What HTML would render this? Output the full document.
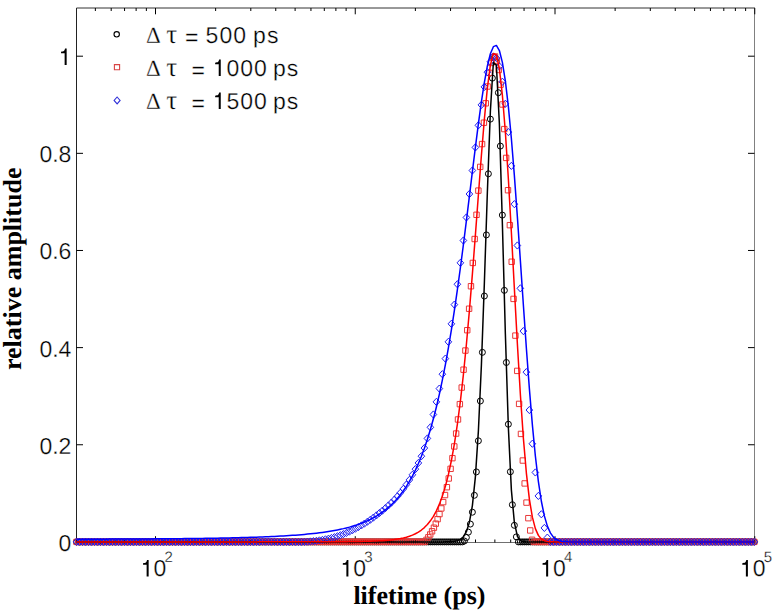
<!DOCTYPE html>
<html><head><meta charset="utf-8"><style>html,body{margin:0;padding:0;background:#fff;width:776px;height:610px;overflow:hidden}svg{display:block;text-rendering:geometricPrecision}</style></head><body><svg width="776" height="610" viewBox="0 0 776 610"><rect width="776" height="610" fill="#fff"/><g fill="none" stroke="#000" stroke-width="1"><path stroke="#222" d="M76.5 542.5V8.0"/><path stroke="#333" d="M76.5 8.0H755.0"/><path stroke="#808080" d="M754.5 8.0V542.5"/><path stroke="#707070" d="M76.5 542.5H754.5"/><path d="M76.5 541.9h6.5M754.5 541.9h-6.5M76.5 444.76h6.5M754.5 444.76h-6.5M76.5 347.62h6.5M754.5 347.62h-6.5M76.5 250.48h6.5M754.5 250.48h-6.5M76.5 153.34h6.5M754.5 153.34h-6.5M76.5 56.2h6.5M754.5 56.2h-6.5M95.37 542.5v-3.0M95.37 8.0v3.0M111.19 542.5v-3.0M111.19 8.0v3.0M124.56 542.5v-3.0M124.56 8.0v3.0M136.14 542.5v-3.0M136.14 8.0v3.0M146.36 542.5v-3.0M146.36 8.0v3.0M155.5 542.5v-6.3M155.5 8.0v6.3M215.63 542.5v-3.0M215.63 8.0v3.0M250.8 542.5v-3.0M250.8 8.0v3.0M275.76 542.5v-3.0M275.76 8.0v3.0M295.12 542.5v-3.0M295.12 8.0v3.0M310.94 542.5v-3.0M310.94 8.0v3.0M324.31 542.5v-3.0M324.31 8.0v3.0M335.89 542.5v-3.0M335.89 8.0v3.0M346.11 542.5v-3.0M346.11 8.0v3.0M355.25 542.5v-6.3M355.25 8.0v6.3M415.38 542.5v-3.0M415.38 8.0v3.0M450.55 542.5v-3.0M450.55 8.0v3.0M475.51 542.5v-3.0M475.51 8.0v3.0M494.87 542.5v-3.0M494.87 8.0v3.0M510.69 542.5v-3.0M510.69 8.0v3.0M524.06 542.5v-3.0M524.06 8.0v3.0M535.64 542.5v-3.0M535.64 8.0v3.0M545.86 542.5v-3.0M545.86 8.0v3.0M555 542.5v-6.3M555 8.0v6.3M615.13 542.5v-3.0M615.13 8.0v3.0M650.3 542.5v-3.0M650.3 8.0v3.0M675.26 542.5v-3.0M675.26 8.0v3.0M694.62 542.5v-3.0M694.62 8.0v3.0M710.44 542.5v-3.0M710.44 8.0v3.0M723.81 542.5v-3.0M723.81 8.0v3.0M735.39 542.5v-3.0M735.39 8.0v3.0M745.61 542.5v-3.0M745.61 8.0v3.0M754.75 542.5v-6.3M754.75 8.0v6.3"/></g><g fill="none" stroke-width="1"><path stroke="#000" d="M73.5 541.9a3.0 3.0 0 1 0 6.0 0a3.0 3.0 0 1 0 -6.0 0M75.5 541.9a3.0 3.0 0 1 0 6.0 0a3.0 3.0 0 1 0 -6.0 0M77.5 541.9a3.0 3.0 0 1 0 6.0 0a3.0 3.0 0 1 0 -6.0 0M79.5 541.9a3.0 3.0 0 1 0 6.0 0a3.0 3.0 0 1 0 -6.0 0M81.5 541.9a3.0 3.0 0 1 0 6.0 0a3.0 3.0 0 1 0 -6.0 0M83.5 541.9a3.0 3.0 0 1 0 6.0 0a3.0 3.0 0 1 0 -6.0 0M85.5 541.9a3.0 3.0 0 1 0 6.0 0a3.0 3.0 0 1 0 -6.0 0M87.5 541.9a3.0 3.0 0 1 0 6.0 0a3.0 3.0 0 1 0 -6.0 0M89.5 541.9a3.0 3.0 0 1 0 6.0 0a3.0 3.0 0 1 0 -6.0 0M91.49 541.9a3.0 3.0 0 1 0 6.0 0a3.0 3.0 0 1 0 -6.0 0M93.49 541.9a3.0 3.0 0 1 0 6.0 0a3.0 3.0 0 1 0 -6.0 0M95.49 541.9a3.0 3.0 0 1 0 6.0 0a3.0 3.0 0 1 0 -6.0 0M97.49 541.9a3.0 3.0 0 1 0 6.0 0a3.0 3.0 0 1 0 -6.0 0M99.49 541.9a3.0 3.0 0 1 0 6.0 0a3.0 3.0 0 1 0 -6.0 0M101.49 541.9a3.0 3.0 0 1 0 6.0 0a3.0 3.0 0 1 0 -6.0 0M103.49 541.9a3.0 3.0 0 1 0 6.0 0a3.0 3.0 0 1 0 -6.0 0M105.49 541.9a3.0 3.0 0 1 0 6.0 0a3.0 3.0 0 1 0 -6.0 0M107.49 541.9a3.0 3.0 0 1 0 6.0 0a3.0 3.0 0 1 0 -6.0 0M109.49 541.9a3.0 3.0 0 1 0 6.0 0a3.0 3.0 0 1 0 -6.0 0M111.49 541.9a3.0 3.0 0 1 0 6.0 0a3.0 3.0 0 1 0 -6.0 0M113.49 541.9a3.0 3.0 0 1 0 6.0 0a3.0 3.0 0 1 0 -6.0 0M115.49 541.9a3.0 3.0 0 1 0 6.0 0a3.0 3.0 0 1 0 -6.0 0M117.49 541.9a3.0 3.0 0 1 0 6.0 0a3.0 3.0 0 1 0 -6.0 0M119.49 541.9a3.0 3.0 0 1 0 6.0 0a3.0 3.0 0 1 0 -6.0 0M121.49 541.9a3.0 3.0 0 1 0 6.0 0a3.0 3.0 0 1 0 -6.0 0M123.49 541.9a3.0 3.0 0 1 0 6.0 0a3.0 3.0 0 1 0 -6.0 0M125.48 541.9a3.0 3.0 0 1 0 6.0 0a3.0 3.0 0 1 0 -6.0 0M127.48 541.9a3.0 3.0 0 1 0 6.0 0a3.0 3.0 0 1 0 -6.0 0M129.48 541.9a3.0 3.0 0 1 0 6.0 0a3.0 3.0 0 1 0 -6.0 0M131.48 541.9a3.0 3.0 0 1 0 6.0 0a3.0 3.0 0 1 0 -6.0 0M133.48 541.9a3.0 3.0 0 1 0 6.0 0a3.0 3.0 0 1 0 -6.0 0M135.48 541.9a3.0 3.0 0 1 0 6.0 0a3.0 3.0 0 1 0 -6.0 0M137.48 541.9a3.0 3.0 0 1 0 6.0 0a3.0 3.0 0 1 0 -6.0 0M139.48 541.9a3.0 3.0 0 1 0 6.0 0a3.0 3.0 0 1 0 -6.0 0M141.48 541.9a3.0 3.0 0 1 0 6.0 0a3.0 3.0 0 1 0 -6.0 0M143.48 541.9a3.0 3.0 0 1 0 6.0 0a3.0 3.0 0 1 0 -6.0 0M145.48 541.9a3.0 3.0 0 1 0 6.0 0a3.0 3.0 0 1 0 -6.0 0M147.48 541.9a3.0 3.0 0 1 0 6.0 0a3.0 3.0 0 1 0 -6.0 0M149.48 541.9a3.0 3.0 0 1 0 6.0 0a3.0 3.0 0 1 0 -6.0 0M151.48 541.9a3.0 3.0 0 1 0 6.0 0a3.0 3.0 0 1 0 -6.0 0M153.48 541.9a3.0 3.0 0 1 0 6.0 0a3.0 3.0 0 1 0 -6.0 0M155.48 541.9a3.0 3.0 0 1 0 6.0 0a3.0 3.0 0 1 0 -6.0 0M157.48 541.9a3.0 3.0 0 1 0 6.0 0a3.0 3.0 0 1 0 -6.0 0M159.47 541.9a3.0 3.0 0 1 0 6.0 0a3.0 3.0 0 1 0 -6.0 0M161.47 541.9a3.0 3.0 0 1 0 6.0 0a3.0 3.0 0 1 0 -6.0 0M163.47 541.9a3.0 3.0 0 1 0 6.0 0a3.0 3.0 0 1 0 -6.0 0M165.47 541.9a3.0 3.0 0 1 0 6.0 0a3.0 3.0 0 1 0 -6.0 0M167.47 541.9a3.0 3.0 0 1 0 6.0 0a3.0 3.0 0 1 0 -6.0 0M169.47 541.9a3.0 3.0 0 1 0 6.0 0a3.0 3.0 0 1 0 -6.0 0M171.47 541.9a3.0 3.0 0 1 0 6.0 0a3.0 3.0 0 1 0 -6.0 0M173.47 541.9a3.0 3.0 0 1 0 6.0 0a3.0 3.0 0 1 0 -6.0 0M175.47 541.9a3.0 3.0 0 1 0 6.0 0a3.0 3.0 0 1 0 -6.0 0M177.47 541.9a3.0 3.0 0 1 0 6.0 0a3.0 3.0 0 1 0 -6.0 0M179.47 541.9a3.0 3.0 0 1 0 6.0 0a3.0 3.0 0 1 0 -6.0 0M181.47 541.9a3.0 3.0 0 1 0 6.0 0a3.0 3.0 0 1 0 -6.0 0M183.47 541.9a3.0 3.0 0 1 0 6.0 0a3.0 3.0 0 1 0 -6.0 0M185.47 541.9a3.0 3.0 0 1 0 6.0 0a3.0 3.0 0 1 0 -6.0 0M187.47 541.9a3.0 3.0 0 1 0 6.0 0a3.0 3.0 0 1 0 -6.0 0M189.47 541.9a3.0 3.0 0 1 0 6.0 0a3.0 3.0 0 1 0 -6.0 0M191.47 541.9a3.0 3.0 0 1 0 6.0 0a3.0 3.0 0 1 0 -6.0 0M193.46 541.9a3.0 3.0 0 1 0 6.0 0a3.0 3.0 0 1 0 -6.0 0M195.46 541.9a3.0 3.0 0 1 0 6.0 0a3.0 3.0 0 1 0 -6.0 0M197.46 541.9a3.0 3.0 0 1 0 6.0 0a3.0 3.0 0 1 0 -6.0 0M199.46 541.9a3.0 3.0 0 1 0 6.0 0a3.0 3.0 0 1 0 -6.0 0M201.46 541.9a3.0 3.0 0 1 0 6.0 0a3.0 3.0 0 1 0 -6.0 0M203.46 541.9a3.0 3.0 0 1 0 6.0 0a3.0 3.0 0 1 0 -6.0 0M205.46 541.9a3.0 3.0 0 1 0 6.0 0a3.0 3.0 0 1 0 -6.0 0M207.46 541.9a3.0 3.0 0 1 0 6.0 0a3.0 3.0 0 1 0 -6.0 0M209.46 541.9a3.0 3.0 0 1 0 6.0 0a3.0 3.0 0 1 0 -6.0 0M211.46 541.9a3.0 3.0 0 1 0 6.0 0a3.0 3.0 0 1 0 -6.0 0M213.46 541.9a3.0 3.0 0 1 0 6.0 0a3.0 3.0 0 1 0 -6.0 0M215.46 541.9a3.0 3.0 0 1 0 6.0 0a3.0 3.0 0 1 0 -6.0 0M217.46 541.9a3.0 3.0 0 1 0 6.0 0a3.0 3.0 0 1 0 -6.0 0M219.46 541.9a3.0 3.0 0 1 0 6.0 0a3.0 3.0 0 1 0 -6.0 0M221.46 541.9a3.0 3.0 0 1 0 6.0 0a3.0 3.0 0 1 0 -6.0 0M223.46 541.9a3.0 3.0 0 1 0 6.0 0a3.0 3.0 0 1 0 -6.0 0M225.46 541.9a3.0 3.0 0 1 0 6.0 0a3.0 3.0 0 1 0 -6.0 0M227.45 541.9a3.0 3.0 0 1 0 6.0 0a3.0 3.0 0 1 0 -6.0 0M229.45 541.9a3.0 3.0 0 1 0 6.0 0a3.0 3.0 0 1 0 -6.0 0M231.45 541.9a3.0 3.0 0 1 0 6.0 0a3.0 3.0 0 1 0 -6.0 0M233.45 541.9a3.0 3.0 0 1 0 6.0 0a3.0 3.0 0 1 0 -6.0 0M235.45 541.9a3.0 3.0 0 1 0 6.0 0a3.0 3.0 0 1 0 -6.0 0M237.45 541.9a3.0 3.0 0 1 0 6.0 0a3.0 3.0 0 1 0 -6.0 0M239.45 541.9a3.0 3.0 0 1 0 6.0 0a3.0 3.0 0 1 0 -6.0 0M241.45 541.9a3.0 3.0 0 1 0 6.0 0a3.0 3.0 0 1 0 -6.0 0M243.45 541.9a3.0 3.0 0 1 0 6.0 0a3.0 3.0 0 1 0 -6.0 0M245.45 541.9a3.0 3.0 0 1 0 6.0 0a3.0 3.0 0 1 0 -6.0 0M247.45 541.9a3.0 3.0 0 1 0 6.0 0a3.0 3.0 0 1 0 -6.0 0M249.45 541.9a3.0 3.0 0 1 0 6.0 0a3.0 3.0 0 1 0 -6.0 0M251.45 541.9a3.0 3.0 0 1 0 6.0 0a3.0 3.0 0 1 0 -6.0 0M253.45 541.9a3.0 3.0 0 1 0 6.0 0a3.0 3.0 0 1 0 -6.0 0M255.45 541.9a3.0 3.0 0 1 0 6.0 0a3.0 3.0 0 1 0 -6.0 0M257.45 541.9a3.0 3.0 0 1 0 6.0 0a3.0 3.0 0 1 0 -6.0 0M259.45 541.9a3.0 3.0 0 1 0 6.0 0a3.0 3.0 0 1 0 -6.0 0M261.44 541.9a3.0 3.0 0 1 0 6.0 0a3.0 3.0 0 1 0 -6.0 0M263.44 541.9a3.0 3.0 0 1 0 6.0 0a3.0 3.0 0 1 0 -6.0 0M265.44 541.9a3.0 3.0 0 1 0 6.0 0a3.0 3.0 0 1 0 -6.0 0M267.44 541.9a3.0 3.0 0 1 0 6.0 0a3.0 3.0 0 1 0 -6.0 0M269.44 541.9a3.0 3.0 0 1 0 6.0 0a3.0 3.0 0 1 0 -6.0 0M271.44 541.9a3.0 3.0 0 1 0 6.0 0a3.0 3.0 0 1 0 -6.0 0M273.44 541.9a3.0 3.0 0 1 0 6.0 0a3.0 3.0 0 1 0 -6.0 0M275.44 541.9a3.0 3.0 0 1 0 6.0 0a3.0 3.0 0 1 0 -6.0 0M277.44 541.9a3.0 3.0 0 1 0 6.0 0a3.0 3.0 0 1 0 -6.0 0M279.44 541.9a3.0 3.0 0 1 0 6.0 0a3.0 3.0 0 1 0 -6.0 0M281.44 541.9a3.0 3.0 0 1 0 6.0 0a3.0 3.0 0 1 0 -6.0 0M283.44 541.9a3.0 3.0 0 1 0 6.0 0a3.0 3.0 0 1 0 -6.0 0M285.44 541.9a3.0 3.0 0 1 0 6.0 0a3.0 3.0 0 1 0 -6.0 0M287.44 541.9a3.0 3.0 0 1 0 6.0 0a3.0 3.0 0 1 0 -6.0 0M289.44 541.9a3.0 3.0 0 1 0 6.0 0a3.0 3.0 0 1 0 -6.0 0M291.44 541.9a3.0 3.0 0 1 0 6.0 0a3.0 3.0 0 1 0 -6.0 0M293.44 541.9a3.0 3.0 0 1 0 6.0 0a3.0 3.0 0 1 0 -6.0 0M295.43 541.9a3.0 3.0 0 1 0 6.0 0a3.0 3.0 0 1 0 -6.0 0M297.43 541.9a3.0 3.0 0 1 0 6.0 0a3.0 3.0 0 1 0 -6.0 0M299.43 541.9a3.0 3.0 0 1 0 6.0 0a3.0 3.0 0 1 0 -6.0 0M301.43 541.9a3.0 3.0 0 1 0 6.0 0a3.0 3.0 0 1 0 -6.0 0M303.43 541.9a3.0 3.0 0 1 0 6.0 0a3.0 3.0 0 1 0 -6.0 0M305.43 541.9a3.0 3.0 0 1 0 6.0 0a3.0 3.0 0 1 0 -6.0 0M307.43 541.9a3.0 3.0 0 1 0 6.0 0a3.0 3.0 0 1 0 -6.0 0M309.43 541.9a3.0 3.0 0 1 0 6.0 0a3.0 3.0 0 1 0 -6.0 0M311.43 541.9a3.0 3.0 0 1 0 6.0 0a3.0 3.0 0 1 0 -6.0 0M313.43 541.9a3.0 3.0 0 1 0 6.0 0a3.0 3.0 0 1 0 -6.0 0M315.43 541.9a3.0 3.0 0 1 0 6.0 0a3.0 3.0 0 1 0 -6.0 0M317.43 541.9a3.0 3.0 0 1 0 6.0 0a3.0 3.0 0 1 0 -6.0 0M319.43 541.9a3.0 3.0 0 1 0 6.0 0a3.0 3.0 0 1 0 -6.0 0M321.43 541.9a3.0 3.0 0 1 0 6.0 0a3.0 3.0 0 1 0 -6.0 0M323.43 541.9a3.0 3.0 0 1 0 6.0 0a3.0 3.0 0 1 0 -6.0 0M325.43 541.9a3.0 3.0 0 1 0 6.0 0a3.0 3.0 0 1 0 -6.0 0M327.43 541.9a3.0 3.0 0 1 0 6.0 0a3.0 3.0 0 1 0 -6.0 0M329.42 541.9a3.0 3.0 0 1 0 6.0 0a3.0 3.0 0 1 0 -6.0 0M331.42 541.9a3.0 3.0 0 1 0 6.0 0a3.0 3.0 0 1 0 -6.0 0M333.42 541.9a3.0 3.0 0 1 0 6.0 0a3.0 3.0 0 1 0 -6.0 0M335.42 541.9a3.0 3.0 0 1 0 6.0 0a3.0 3.0 0 1 0 -6.0 0M337.42 541.9a3.0 3.0 0 1 0 6.0 0a3.0 3.0 0 1 0 -6.0 0M339.42 541.9a3.0 3.0 0 1 0 6.0 0a3.0 3.0 0 1 0 -6.0 0M341.42 541.9a3.0 3.0 0 1 0 6.0 0a3.0 3.0 0 1 0 -6.0 0M343.42 541.9a3.0 3.0 0 1 0 6.0 0a3.0 3.0 0 1 0 -6.0 0M345.42 541.9a3.0 3.0 0 1 0 6.0 0a3.0 3.0 0 1 0 -6.0 0M347.42 541.9a3.0 3.0 0 1 0 6.0 0a3.0 3.0 0 1 0 -6.0 0M349.42 541.9a3.0 3.0 0 1 0 6.0 0a3.0 3.0 0 1 0 -6.0 0M351.42 541.9a3.0 3.0 0 1 0 6.0 0a3.0 3.0 0 1 0 -6.0 0M353.42 541.9a3.0 3.0 0 1 0 6.0 0a3.0 3.0 0 1 0 -6.0 0M355.42 541.9a3.0 3.0 0 1 0 6.0 0a3.0 3.0 0 1 0 -6.0 0M357.42 541.9a3.0 3.0 0 1 0 6.0 0a3.0 3.0 0 1 0 -6.0 0M359.42 541.9a3.0 3.0 0 1 0 6.0 0a3.0 3.0 0 1 0 -6.0 0M361.42 541.9a3.0 3.0 0 1 0 6.0 0a3.0 3.0 0 1 0 -6.0 0M363.41 541.9a3.0 3.0 0 1 0 6.0 0a3.0 3.0 0 1 0 -6.0 0M365.41 541.9a3.0 3.0 0 1 0 6.0 0a3.0 3.0 0 1 0 -6.0 0M367.41 541.9a3.0 3.0 0 1 0 6.0 0a3.0 3.0 0 1 0 -6.0 0M369.41 541.9a3.0 3.0 0 1 0 6.0 0a3.0 3.0 0 1 0 -6.0 0M371.41 541.9a3.0 3.0 0 1 0 6.0 0a3.0 3.0 0 1 0 -6.0 0M373.41 541.9a3.0 3.0 0 1 0 6.0 0a3.0 3.0 0 1 0 -6.0 0M375.41 541.9a3.0 3.0 0 1 0 6.0 0a3.0 3.0 0 1 0 -6.0 0M377.41 541.9a3.0 3.0 0 1 0 6.0 0a3.0 3.0 0 1 0 -6.0 0M379.41 541.9a3.0 3.0 0 1 0 6.0 0a3.0 3.0 0 1 0 -6.0 0M381.41 541.9a3.0 3.0 0 1 0 6.0 0a3.0 3.0 0 1 0 -6.0 0M383.41 541.9a3.0 3.0 0 1 0 6.0 0a3.0 3.0 0 1 0 -6.0 0M385.41 541.9a3.0 3.0 0 1 0 6.0 0a3.0 3.0 0 1 0 -6.0 0M387.41 541.9a3.0 3.0 0 1 0 6.0 0a3.0 3.0 0 1 0 -6.0 0M389.41 541.9a3.0 3.0 0 1 0 6.0 0a3.0 3.0 0 1 0 -6.0 0M391.41 541.9a3.0 3.0 0 1 0 6.0 0a3.0 3.0 0 1 0 -6.0 0M393.41 541.9a3.0 3.0 0 1 0 6.0 0a3.0 3.0 0 1 0 -6.0 0M395.41 541.9a3.0 3.0 0 1 0 6.0 0a3.0 3.0 0 1 0 -6.0 0M397.4 541.9a3.0 3.0 0 1 0 6.0 0a3.0 3.0 0 1 0 -6.0 0M399.4 541.9a3.0 3.0 0 1 0 6.0 0a3.0 3.0 0 1 0 -6.0 0M401.4 541.9a3.0 3.0 0 1 0 6.0 0a3.0 3.0 0 1 0 -6.0 0M403.4 541.9a3.0 3.0 0 1 0 6.0 0a3.0 3.0 0 1 0 -6.0 0M405.4 541.9a3.0 3.0 0 1 0 6.0 0a3.0 3.0 0 1 0 -6.0 0M407.4 541.9a3.0 3.0 0 1 0 6.0 0a3.0 3.0 0 1 0 -6.0 0M409.4 541.9a3.0 3.0 0 1 0 6.0 0a3.0 3.0 0 1 0 -6.0 0M411.4 541.9a3.0 3.0 0 1 0 6.0 0a3.0 3.0 0 1 0 -6.0 0M413.4 541.9a3.0 3.0 0 1 0 6.0 0a3.0 3.0 0 1 0 -6.0 0M415.4 541.9a3.0 3.0 0 1 0 6.0 0a3.0 3.0 0 1 0 -6.0 0M417.4 541.9a3.0 3.0 0 1 0 6.0 0a3.0 3.0 0 1 0 -6.0 0M419.4 541.9a3.0 3.0 0 1 0 6.0 0a3.0 3.0 0 1 0 -6.0 0M421.4 541.9a3.0 3.0 0 1 0 6.0 0a3.0 3.0 0 1 0 -6.0 0M423.4 541.9a3.0 3.0 0 1 0 6.0 0a3.0 3.0 0 1 0 -6.0 0M425.4 541.9a3.0 3.0 0 1 0 6.0 0a3.0 3.0 0 1 0 -6.0 0M427.4 541.9a3.0 3.0 0 1 0 6.0 0a3.0 3.0 0 1 0 -6.0 0M429.39 541.9a3.0 3.0 0 1 0 6.0 0a3.0 3.0 0 1 0 -6.0 0M431.39 541.9a3.0 3.0 0 1 0 6.0 0a3.0 3.0 0 1 0 -6.0 0M433.39 541.9a3.0 3.0 0 1 0 6.0 0a3.0 3.0 0 1 0 -6.0 0M435.39 541.9a3.0 3.0 0 1 0 6.0 0a3.0 3.0 0 1 0 -6.0 0M437.39 541.9a3.0 3.0 0 1 0 6.0 0a3.0 3.0 0 1 0 -6.0 0M439.39 541.9a3.0 3.0 0 1 0 6.0 0a3.0 3.0 0 1 0 -6.0 0M441.39 541.9a3.0 3.0 0 1 0 6.0 0a3.0 3.0 0 1 0 -6.0 0M443.39 541.9a3.0 3.0 0 1 0 6.0 0a3.0 3.0 0 1 0 -6.0 0M445.39 541.9a3.0 3.0 0 1 0 6.0 0a3.0 3.0 0 1 0 -6.0 0M447.39 541.9a3.0 3.0 0 1 0 6.0 0a3.0 3.0 0 1 0 -6.0 0M449.39 541.9a3.0 3.0 0 1 0 6.0 0a3.0 3.0 0 1 0 -6.0 0M451.39 541.9a3.0 3.0 0 1 0 6.0 0a3.0 3.0 0 1 0 -6.0 0M453.39 541.9a3.0 3.0 0 1 0 6.0 0a3.0 3.0 0 1 0 -6.0 0M455.39 541.9a3.0 3.0 0 1 0 6.0 0a3.0 3.0 0 1 0 -6.0 0M457.39 541.9a3.0 3.0 0 1 0 6.0 0a3.0 3.0 0 1 0 -6.0 0M459.39 541.9a3.0 3.0 0 1 0 6.0 0a3.0 3.0 0 1 0 -6.0 0M461.39 541.01a3.0 3.0 0 1 0 6.0 0a3.0 3.0 0 1 0 -6.0 0M463.38 537.52a3.0 3.0 0 1 0 6.0 0a3.0 3.0 0 1 0 -6.0 0M465.38 532.14a3.0 3.0 0 1 0 6.0 0a3.0 3.0 0 1 0 -6.0 0M467.38 524.05a3.0 3.0 0 1 0 6.0 0a3.0 3.0 0 1 0 -6.0 0M469.38 512.19a3.0 3.0 0 1 0 6.0 0a3.0 3.0 0 1 0 -6.0 0M471.38 495.28a3.0 3.0 0 1 0 6.0 0a3.0 3.0 0 1 0 -6.0 0M473.38 471.92a3.0 3.0 0 1 0 6.0 0a3.0 3.0 0 1 0 -6.0 0M475.38 440.81a3.0 3.0 0 1 0 6.0 0a3.0 3.0 0 1 0 -6.0 0M477.38 400.99a3.0 3.0 0 1 0 6.0 0a3.0 3.0 0 1 0 -6.0 0M479.38 352.34a3.0 3.0 0 1 0 6.0 0a3.0 3.0 0 1 0 -6.0 0M481.38 296.02a3.0 3.0 0 1 0 6.0 0a3.0 3.0 0 1 0 -6.0 0M483.38 234.92a3.0 3.0 0 1 0 6.0 0a3.0 3.0 0 1 0 -6.0 0M485.38 173.8a3.0 3.0 0 1 0 6.0 0a3.0 3.0 0 1 0 -6.0 0M487.38 119.12a3.0 3.0 0 1 0 6.0 0a3.0 3.0 0 1 0 -6.0 0M489.38 78.14a3.0 3.0 0 1 0 6.0 0a3.0 3.0 0 1 0 -6.0 0M491.38 57.61a3.0 3.0 0 1 0 6.0 0a3.0 3.0 0 1 0 -6.0 0M493.38 62.14a3.0 3.0 0 1 0 6.0 0a3.0 3.0 0 1 0 -6.0 0M495.38 92.73a3.0 3.0 0 1 0 6.0 0a3.0 3.0 0 1 0 -6.0 0M497.37 146.09a3.0 3.0 0 1 0 6.0 0a3.0 3.0 0 1 0 -6.0 0M499.37 215.1a3.0 3.0 0 1 0 6.0 0a3.0 3.0 0 1 0 -6.0 0M501.37 290.35a3.0 3.0 0 1 0 6.0 0a3.0 3.0 0 1 0 -6.0 0M503.37 362.48a3.0 3.0 0 1 0 6.0 0a3.0 3.0 0 1 0 -6.0 0M505.37 424.23a3.0 3.0 0 1 0 6.0 0a3.0 3.0 0 1 0 -6.0 0M507.37 471.77a3.0 3.0 0 1 0 6.0 0a3.0 3.0 0 1 0 -6.0 0M509.37 504.74a3.0 3.0 0 1 0 6.0 0a3.0 3.0 0 1 0 -6.0 0M511.37 525.32a3.0 3.0 0 1 0 6.0 0a3.0 3.0 0 1 0 -6.0 0M513.37 536.86a3.0 3.0 0 1 0 6.0 0a3.0 3.0 0 1 0 -6.0 0M515.37 541.9a3.0 3.0 0 1 0 6.0 0a3.0 3.0 0 1 0 -6.0 0M517.37 541.9a3.0 3.0 0 1 0 6.0 0a3.0 3.0 0 1 0 -6.0 0M519.37 541.9a3.0 3.0 0 1 0 6.0 0a3.0 3.0 0 1 0 -6.0 0M521.37 541.9a3.0 3.0 0 1 0 6.0 0a3.0 3.0 0 1 0 -6.0 0M523.37 541.9a3.0 3.0 0 1 0 6.0 0a3.0 3.0 0 1 0 -6.0 0M525.37 541.9a3.0 3.0 0 1 0 6.0 0a3.0 3.0 0 1 0 -6.0 0M527.37 541.9a3.0 3.0 0 1 0 6.0 0a3.0 3.0 0 1 0 -6.0 0M529.37 541.9a3.0 3.0 0 1 0 6.0 0a3.0 3.0 0 1 0 -6.0 0M531.36 541.9a3.0 3.0 0 1 0 6.0 0a3.0 3.0 0 1 0 -6.0 0M533.36 541.9a3.0 3.0 0 1 0 6.0 0a3.0 3.0 0 1 0 -6.0 0M535.36 541.9a3.0 3.0 0 1 0 6.0 0a3.0 3.0 0 1 0 -6.0 0M537.36 541.9a3.0 3.0 0 1 0 6.0 0a3.0 3.0 0 1 0 -6.0 0M539.36 541.9a3.0 3.0 0 1 0 6.0 0a3.0 3.0 0 1 0 -6.0 0M541.36 541.9a3.0 3.0 0 1 0 6.0 0a3.0 3.0 0 1 0 -6.0 0M543.36 541.9a3.0 3.0 0 1 0 6.0 0a3.0 3.0 0 1 0 -6.0 0M545.36 541.9a3.0 3.0 0 1 0 6.0 0a3.0 3.0 0 1 0 -6.0 0M547.36 541.9a3.0 3.0 0 1 0 6.0 0a3.0 3.0 0 1 0 -6.0 0M549.36 541.9a3.0 3.0 0 1 0 6.0 0a3.0 3.0 0 1 0 -6.0 0M551.36 541.9a3.0 3.0 0 1 0 6.0 0a3.0 3.0 0 1 0 -6.0 0M553.36 541.9a3.0 3.0 0 1 0 6.0 0a3.0 3.0 0 1 0 -6.0 0M555.36 541.9a3.0 3.0 0 1 0 6.0 0a3.0 3.0 0 1 0 -6.0 0M557.36 541.9a3.0 3.0 0 1 0 6.0 0a3.0 3.0 0 1 0 -6.0 0M559.36 541.9a3.0 3.0 0 1 0 6.0 0a3.0 3.0 0 1 0 -6.0 0M561.36 541.9a3.0 3.0 0 1 0 6.0 0a3.0 3.0 0 1 0 -6.0 0M563.36 541.9a3.0 3.0 0 1 0 6.0 0a3.0 3.0 0 1 0 -6.0 0M565.35 541.9a3.0 3.0 0 1 0 6.0 0a3.0 3.0 0 1 0 -6.0 0M567.35 541.9a3.0 3.0 0 1 0 6.0 0a3.0 3.0 0 1 0 -6.0 0M569.35 541.9a3.0 3.0 0 1 0 6.0 0a3.0 3.0 0 1 0 -6.0 0M571.35 541.9a3.0 3.0 0 1 0 6.0 0a3.0 3.0 0 1 0 -6.0 0M573.35 541.9a3.0 3.0 0 1 0 6.0 0a3.0 3.0 0 1 0 -6.0 0M575.35 541.9a3.0 3.0 0 1 0 6.0 0a3.0 3.0 0 1 0 -6.0 0M577.35 541.9a3.0 3.0 0 1 0 6.0 0a3.0 3.0 0 1 0 -6.0 0M579.35 541.9a3.0 3.0 0 1 0 6.0 0a3.0 3.0 0 1 0 -6.0 0M581.35 541.9a3.0 3.0 0 1 0 6.0 0a3.0 3.0 0 1 0 -6.0 0M583.35 541.9a3.0 3.0 0 1 0 6.0 0a3.0 3.0 0 1 0 -6.0 0M585.35 541.9a3.0 3.0 0 1 0 6.0 0a3.0 3.0 0 1 0 -6.0 0M587.35 541.9a3.0 3.0 0 1 0 6.0 0a3.0 3.0 0 1 0 -6.0 0M589.35 541.9a3.0 3.0 0 1 0 6.0 0a3.0 3.0 0 1 0 -6.0 0M591.35 541.9a3.0 3.0 0 1 0 6.0 0a3.0 3.0 0 1 0 -6.0 0M593.35 541.9a3.0 3.0 0 1 0 6.0 0a3.0 3.0 0 1 0 -6.0 0M595.35 541.9a3.0 3.0 0 1 0 6.0 0a3.0 3.0 0 1 0 -6.0 0M597.35 541.9a3.0 3.0 0 1 0 6.0 0a3.0 3.0 0 1 0 -6.0 0M599.34 541.9a3.0 3.0 0 1 0 6.0 0a3.0 3.0 0 1 0 -6.0 0M601.34 541.9a3.0 3.0 0 1 0 6.0 0a3.0 3.0 0 1 0 -6.0 0M603.34 541.9a3.0 3.0 0 1 0 6.0 0a3.0 3.0 0 1 0 -6.0 0M605.34 541.9a3.0 3.0 0 1 0 6.0 0a3.0 3.0 0 1 0 -6.0 0M607.34 541.9a3.0 3.0 0 1 0 6.0 0a3.0 3.0 0 1 0 -6.0 0M609.34 541.9a3.0 3.0 0 1 0 6.0 0a3.0 3.0 0 1 0 -6.0 0M611.34 541.9a3.0 3.0 0 1 0 6.0 0a3.0 3.0 0 1 0 -6.0 0M613.34 541.9a3.0 3.0 0 1 0 6.0 0a3.0 3.0 0 1 0 -6.0 0M615.34 541.9a3.0 3.0 0 1 0 6.0 0a3.0 3.0 0 1 0 -6.0 0M617.34 541.9a3.0 3.0 0 1 0 6.0 0a3.0 3.0 0 1 0 -6.0 0M619.34 541.9a3.0 3.0 0 1 0 6.0 0a3.0 3.0 0 1 0 -6.0 0M621.34 541.9a3.0 3.0 0 1 0 6.0 0a3.0 3.0 0 1 0 -6.0 0M623.34 541.9a3.0 3.0 0 1 0 6.0 0a3.0 3.0 0 1 0 -6.0 0M625.34 541.9a3.0 3.0 0 1 0 6.0 0a3.0 3.0 0 1 0 -6.0 0M627.34 541.9a3.0 3.0 0 1 0 6.0 0a3.0 3.0 0 1 0 -6.0 0M629.34 541.9a3.0 3.0 0 1 0 6.0 0a3.0 3.0 0 1 0 -6.0 0M631.34 541.9a3.0 3.0 0 1 0 6.0 0a3.0 3.0 0 1 0 -6.0 0M633.33 541.9a3.0 3.0 0 1 0 6.0 0a3.0 3.0 0 1 0 -6.0 0M635.33 541.9a3.0 3.0 0 1 0 6.0 0a3.0 3.0 0 1 0 -6.0 0M637.33 541.9a3.0 3.0 0 1 0 6.0 0a3.0 3.0 0 1 0 -6.0 0M639.33 541.9a3.0 3.0 0 1 0 6.0 0a3.0 3.0 0 1 0 -6.0 0M641.33 541.9a3.0 3.0 0 1 0 6.0 0a3.0 3.0 0 1 0 -6.0 0M643.33 541.9a3.0 3.0 0 1 0 6.0 0a3.0 3.0 0 1 0 -6.0 0M645.33 541.9a3.0 3.0 0 1 0 6.0 0a3.0 3.0 0 1 0 -6.0 0M647.33 541.9a3.0 3.0 0 1 0 6.0 0a3.0 3.0 0 1 0 -6.0 0M649.33 541.9a3.0 3.0 0 1 0 6.0 0a3.0 3.0 0 1 0 -6.0 0M651.33 541.9a3.0 3.0 0 1 0 6.0 0a3.0 3.0 0 1 0 -6.0 0M653.33 541.9a3.0 3.0 0 1 0 6.0 0a3.0 3.0 0 1 0 -6.0 0M655.33 541.9a3.0 3.0 0 1 0 6.0 0a3.0 3.0 0 1 0 -6.0 0M657.33 541.9a3.0 3.0 0 1 0 6.0 0a3.0 3.0 0 1 0 -6.0 0M659.33 541.9a3.0 3.0 0 1 0 6.0 0a3.0 3.0 0 1 0 -6.0 0M661.33 541.9a3.0 3.0 0 1 0 6.0 0a3.0 3.0 0 1 0 -6.0 0M663.33 541.9a3.0 3.0 0 1 0 6.0 0a3.0 3.0 0 1 0 -6.0 0M665.33 541.9a3.0 3.0 0 1 0 6.0 0a3.0 3.0 0 1 0 -6.0 0M667.32 541.9a3.0 3.0 0 1 0 6.0 0a3.0 3.0 0 1 0 -6.0 0M669.32 541.9a3.0 3.0 0 1 0 6.0 0a3.0 3.0 0 1 0 -6.0 0M671.32 541.9a3.0 3.0 0 1 0 6.0 0a3.0 3.0 0 1 0 -6.0 0M673.32 541.9a3.0 3.0 0 1 0 6.0 0a3.0 3.0 0 1 0 -6.0 0M675.32 541.9a3.0 3.0 0 1 0 6.0 0a3.0 3.0 0 1 0 -6.0 0M677.32 541.9a3.0 3.0 0 1 0 6.0 0a3.0 3.0 0 1 0 -6.0 0M679.32 541.9a3.0 3.0 0 1 0 6.0 0a3.0 3.0 0 1 0 -6.0 0M681.32 541.9a3.0 3.0 0 1 0 6.0 0a3.0 3.0 0 1 0 -6.0 0M683.32 541.9a3.0 3.0 0 1 0 6.0 0a3.0 3.0 0 1 0 -6.0 0M685.32 541.9a3.0 3.0 0 1 0 6.0 0a3.0 3.0 0 1 0 -6.0 0M687.32 541.9a3.0 3.0 0 1 0 6.0 0a3.0 3.0 0 1 0 -6.0 0M689.32 541.9a3.0 3.0 0 1 0 6.0 0a3.0 3.0 0 1 0 -6.0 0M691.32 541.9a3.0 3.0 0 1 0 6.0 0a3.0 3.0 0 1 0 -6.0 0M693.32 541.9a3.0 3.0 0 1 0 6.0 0a3.0 3.0 0 1 0 -6.0 0M695.32 541.9a3.0 3.0 0 1 0 6.0 0a3.0 3.0 0 1 0 -6.0 0M697.32 541.9a3.0 3.0 0 1 0 6.0 0a3.0 3.0 0 1 0 -6.0 0M699.32 541.9a3.0 3.0 0 1 0 6.0 0a3.0 3.0 0 1 0 -6.0 0M701.31 541.9a3.0 3.0 0 1 0 6.0 0a3.0 3.0 0 1 0 -6.0 0M703.31 541.9a3.0 3.0 0 1 0 6.0 0a3.0 3.0 0 1 0 -6.0 0M705.31 541.9a3.0 3.0 0 1 0 6.0 0a3.0 3.0 0 1 0 -6.0 0M707.31 541.9a3.0 3.0 0 1 0 6.0 0a3.0 3.0 0 1 0 -6.0 0M709.31 541.9a3.0 3.0 0 1 0 6.0 0a3.0 3.0 0 1 0 -6.0 0M711.31 541.9a3.0 3.0 0 1 0 6.0 0a3.0 3.0 0 1 0 -6.0 0M713.31 541.9a3.0 3.0 0 1 0 6.0 0a3.0 3.0 0 1 0 -6.0 0M715.31 541.9a3.0 3.0 0 1 0 6.0 0a3.0 3.0 0 1 0 -6.0 0M717.31 541.9a3.0 3.0 0 1 0 6.0 0a3.0 3.0 0 1 0 -6.0 0M719.31 541.9a3.0 3.0 0 1 0 6.0 0a3.0 3.0 0 1 0 -6.0 0M721.31 541.9a3.0 3.0 0 1 0 6.0 0a3.0 3.0 0 1 0 -6.0 0M723.31 541.9a3.0 3.0 0 1 0 6.0 0a3.0 3.0 0 1 0 -6.0 0M725.31 541.9a3.0 3.0 0 1 0 6.0 0a3.0 3.0 0 1 0 -6.0 0M727.31 541.9a3.0 3.0 0 1 0 6.0 0a3.0 3.0 0 1 0 -6.0 0M729.31 541.9a3.0 3.0 0 1 0 6.0 0a3.0 3.0 0 1 0 -6.0 0M731.31 541.9a3.0 3.0 0 1 0 6.0 0a3.0 3.0 0 1 0 -6.0 0M733.31 541.9a3.0 3.0 0 1 0 6.0 0a3.0 3.0 0 1 0 -6.0 0M735.3 541.9a3.0 3.0 0 1 0 6.0 0a3.0 3.0 0 1 0 -6.0 0M737.3 541.9a3.0 3.0 0 1 0 6.0 0a3.0 3.0 0 1 0 -6.0 0M739.3 541.9a3.0 3.0 0 1 0 6.0 0a3.0 3.0 0 1 0 -6.0 0M741.3 541.9a3.0 3.0 0 1 0 6.0 0a3.0 3.0 0 1 0 -6.0 0M743.3 541.9a3.0 3.0 0 1 0 6.0 0a3.0 3.0 0 1 0 -6.0 0M745.3 541.9a3.0 3.0 0 1 0 6.0 0a3.0 3.0 0 1 0 -6.0 0M747.3 541.9a3.0 3.0 0 1 0 6.0 0a3.0 3.0 0 1 0 -6.0 0M749.3 541.9a3.0 3.0 0 1 0 6.0 0a3.0 3.0 0 1 0 -6.0 0M751.3 541.9a3.0 3.0 0 1 0 6.0 0a3.0 3.0 0 1 0 -6.0 0"/><path stroke="#e83838" d="M73.8 539.2h5.4v5.4h-5.4zM75.65 539.2h5.4v5.4h-5.4zM77.5 539.2h5.4v5.4h-5.4zM79.36 539.2h5.4v5.4h-5.4zM81.21 539.2h5.4v5.4h-5.4zM83.06 539.2h5.4v5.4h-5.4zM84.91 539.2h5.4v5.4h-5.4zM86.76 539.2h5.4v5.4h-5.4zM88.62 539.2h5.4v5.4h-5.4zM90.47 539.2h5.4v5.4h-5.4zM92.32 539.2h5.4v5.4h-5.4zM94.17 539.2h5.4v5.4h-5.4zM96.02 539.2h5.4v5.4h-5.4zM97.87 539.2h5.4v5.4h-5.4zM99.73 539.2h5.4v5.4h-5.4zM101.58 539.2h5.4v5.4h-5.4zM103.43 539.2h5.4v5.4h-5.4zM105.28 539.2h5.4v5.4h-5.4zM107.13 539.2h5.4v5.4h-5.4zM108.99 539.2h5.4v5.4h-5.4zM110.84 539.2h5.4v5.4h-5.4zM112.69 539.2h5.4v5.4h-5.4zM114.54 539.2h5.4v5.4h-5.4zM116.39 539.2h5.4v5.4h-5.4zM118.25 539.2h5.4v5.4h-5.4zM120.1 539.2h5.4v5.4h-5.4zM121.95 539.2h5.4v5.4h-5.4zM123.8 539.2h5.4v5.4h-5.4zM125.65 539.2h5.4v5.4h-5.4zM127.51 539.2h5.4v5.4h-5.4zM129.36 539.2h5.4v5.4h-5.4zM131.21 539.2h5.4v5.4h-5.4zM133.06 539.2h5.4v5.4h-5.4zM134.91 539.2h5.4v5.4h-5.4zM136.77 539.2h5.4v5.4h-5.4zM138.62 539.2h5.4v5.4h-5.4zM140.47 539.2h5.4v5.4h-5.4zM142.32 539.2h5.4v5.4h-5.4zM144.17 539.2h5.4v5.4h-5.4zM146.02 539.2h5.4v5.4h-5.4zM147.88 539.2h5.4v5.4h-5.4zM149.73 539.2h5.4v5.4h-5.4zM151.58 539.2h5.4v5.4h-5.4zM153.43 539.2h5.4v5.4h-5.4zM155.28 539.2h5.4v5.4h-5.4zM157.14 539.2h5.4v5.4h-5.4zM158.99 539.2h5.4v5.4h-5.4zM160.84 539.2h5.4v5.4h-5.4zM162.69 539.2h5.4v5.4h-5.4zM164.54 539.2h5.4v5.4h-5.4zM166.4 539.2h5.4v5.4h-5.4zM168.25 539.2h5.4v5.4h-5.4zM170.1 539.2h5.4v5.4h-5.4zM171.95 539.2h5.4v5.4h-5.4zM173.8 539.2h5.4v5.4h-5.4zM175.66 539.2h5.4v5.4h-5.4zM177.51 539.2h5.4v5.4h-5.4zM179.36 539.2h5.4v5.4h-5.4zM181.21 539.2h5.4v5.4h-5.4zM183.06 539.2h5.4v5.4h-5.4zM184.91 539.2h5.4v5.4h-5.4zM186.77 539.2h5.4v5.4h-5.4zM188.62 539.2h5.4v5.4h-5.4zM190.47 539.2h5.4v5.4h-5.4zM192.32 539.2h5.4v5.4h-5.4zM194.17 539.2h5.4v5.4h-5.4zM196.03 539.2h5.4v5.4h-5.4zM197.88 539.2h5.4v5.4h-5.4zM199.73 539.2h5.4v5.4h-5.4zM201.58 539.2h5.4v5.4h-5.4zM203.43 539.2h5.4v5.4h-5.4zM205.29 539.2h5.4v5.4h-5.4zM207.14 539.2h5.4v5.4h-5.4zM208.99 539.2h5.4v5.4h-5.4zM210.84 539.2h5.4v5.4h-5.4zM212.69 539.2h5.4v5.4h-5.4zM214.55 539.2h5.4v5.4h-5.4zM216.4 539.2h5.4v5.4h-5.4zM218.25 539.2h5.4v5.4h-5.4zM220.1 539.2h5.4v5.4h-5.4zM221.95 539.2h5.4v5.4h-5.4zM223.8 539.2h5.4v5.4h-5.4zM225.66 539.2h5.4v5.4h-5.4zM227.51 539.2h5.4v5.4h-5.4zM229.36 539.2h5.4v5.4h-5.4zM231.21 539.2h5.4v5.4h-5.4zM233.06 539.2h5.4v5.4h-5.4zM234.92 539.2h5.4v5.4h-5.4zM236.77 539.2h5.4v5.4h-5.4zM238.62 539.2h5.4v5.4h-5.4zM240.47 539.2h5.4v5.4h-5.4zM242.32 539.2h5.4v5.4h-5.4zM244.18 539.2h5.4v5.4h-5.4zM246.03 539.2h5.4v5.4h-5.4zM247.88 539.2h5.4v5.4h-5.4zM249.73 539.2h5.4v5.4h-5.4zM251.58 539.2h5.4v5.4h-5.4zM253.44 539.2h5.4v5.4h-5.4zM255.29 539.2h5.4v5.4h-5.4zM257.14 539.2h5.4v5.4h-5.4zM258.99 539.2h5.4v5.4h-5.4zM260.84 539.2h5.4v5.4h-5.4zM262.7 539.2h5.4v5.4h-5.4zM264.55 539.2h5.4v5.4h-5.4zM266.4 539.2h5.4v5.4h-5.4zM268.25 539.2h5.4v5.4h-5.4zM270.1 539.2h5.4v5.4h-5.4zM271.95 539.2h5.4v5.4h-5.4zM273.81 539.2h5.4v5.4h-5.4zM275.66 539.2h5.4v5.4h-5.4zM277.51 539.2h5.4v5.4h-5.4zM279.36 539.2h5.4v5.4h-5.4zM281.21 539.2h5.4v5.4h-5.4zM283.07 539.2h5.4v5.4h-5.4zM284.92 539.2h5.4v5.4h-5.4zM286.77 539.2h5.4v5.4h-5.4zM288.62 539.2h5.4v5.4h-5.4zM290.47 539.2h5.4v5.4h-5.4zM292.33 539.2h5.4v5.4h-5.4zM294.18 539.2h5.4v5.4h-5.4zM296.03 539.2h5.4v5.4h-5.4zM297.88 539.2h5.4v5.4h-5.4zM299.73 539.2h5.4v5.4h-5.4zM301.59 539.2h5.4v5.4h-5.4zM303.44 539.2h5.4v5.4h-5.4zM305.29 539.2h5.4v5.4h-5.4zM307.14 539.2h5.4v5.4h-5.4zM308.99 539.2h5.4v5.4h-5.4zM310.84 539.2h5.4v5.4h-5.4zM312.7 539.2h5.4v5.4h-5.4zM314.55 539.2h5.4v5.4h-5.4zM316.4 539.2h5.4v5.4h-5.4zM318.25 539.2h5.4v5.4h-5.4zM320.1 539.2h5.4v5.4h-5.4zM321.96 539.2h5.4v5.4h-5.4zM323.81 539.2h5.4v5.4h-5.4zM325.66 539.2h5.4v5.4h-5.4zM327.51 539.2h5.4v5.4h-5.4zM329.36 539.2h5.4v5.4h-5.4zM331.22 539.2h5.4v5.4h-5.4zM333.07 539.2h5.4v5.4h-5.4zM334.92 539.2h5.4v5.4h-5.4zM336.77 539.2h5.4v5.4h-5.4zM338.62 539.2h5.4v5.4h-5.4zM340.48 539.2h5.4v5.4h-5.4zM342.33 539.2h5.4v5.4h-5.4zM344.18 539.2h5.4v5.4h-5.4zM346.03 539.2h5.4v5.4h-5.4zM347.88 539.2h5.4v5.4h-5.4zM349.73 539.2h5.4v5.4h-5.4zM351.59 539.2h5.4v5.4h-5.4zM353.44 539.2h5.4v5.4h-5.4zM355.29 539.2h5.4v5.4h-5.4zM357.14 539.2h5.4v5.4h-5.4zM358.99 539.2h5.4v5.4h-5.4zM360.85 539.2h5.4v5.4h-5.4zM362.7 539.2h5.4v5.4h-5.4zM364.55 539.2h5.4v5.4h-5.4zM366.4 539.2h5.4v5.4h-5.4zM368.25 539.2h5.4v5.4h-5.4zM370.11 539.2h5.4v5.4h-5.4zM371.96 539.2h5.4v5.4h-5.4zM373.81 539.2h5.4v5.4h-5.4zM375.66 539.2h5.4v5.4h-5.4zM377.51 539.2h5.4v5.4h-5.4zM379.37 539.2h5.4v5.4h-5.4zM381.22 539.2h5.4v5.4h-5.4zM383.07 539.2h5.4v5.4h-5.4zM384.92 539.2h5.4v5.4h-5.4zM386.77 539.2h5.4v5.4h-5.4zM388.63 539.2h5.4v5.4h-5.4zM390.48 539.2h5.4v5.4h-5.4zM392.33 539.2h5.4v5.4h-5.4zM394.18 539.2h5.4v5.4h-5.4zM396.03 539.2h5.4v5.4h-5.4zM397.88 539.2h5.4v5.4h-5.4zM399.74 539.2h5.4v5.4h-5.4zM401.59 539.2h5.4v5.4h-5.4zM403.44 539.2h5.4v5.4h-5.4zM405.29 539.2h5.4v5.4h-5.4zM407.14 539.2h5.4v5.4h-5.4zM409 539.2h5.4v5.4h-5.4zM410.85 539.2h5.4v5.4h-5.4zM412.7 539.2h5.4v5.4h-5.4zM414.55 539.2h5.4v5.4h-5.4zM416.4 539.2h5.4v5.4h-5.4zM418.26 539.2h5.4v5.4h-5.4zM420.11 539.2h5.4v5.4h-5.4zM421.96 539.2h5.4v5.4h-5.4zM423.81 537.15h5.4v5.4h-5.4zM425.66 534.62h5.4v5.4h-5.4zM427.52 531.78h5.4v5.4h-5.4zM429.37 528.59h5.4v5.4h-5.4zM431.22 525h5.4v5.4h-5.4zM433.07 520.97h5.4v5.4h-5.4zM434.92 516.45h5.4v5.4h-5.4zM436.77 511.39h5.4v5.4h-5.4zM438.63 505.73h5.4v5.4h-5.4zM440.48 499.4h5.4v5.4h-5.4zM442.33 492.35h5.4v5.4h-5.4zM444.18 484.5h5.4v5.4h-5.4zM446.03 475.78h5.4v5.4h-5.4zM447.89 466.13h5.4v5.4h-5.4zM449.74 455.47h5.4v5.4h-5.4zM451.59 443.73h5.4v5.4h-5.4zM453.44 430.85h5.4v5.4h-5.4zM455.29 416.77h5.4v5.4h-5.4zM457.15 401.45h5.4v5.4h-5.4zM459 384.86h5.4v5.4h-5.4zM460.85 366.99h5.4v5.4h-5.4zM462.7 347.85h5.4v5.4h-5.4zM464.55 327.5h5.4v5.4h-5.4zM466.41 306.02h5.4v5.4h-5.4zM468.26 283.54h5.4v5.4h-5.4zM470.11 260.23h5.4v5.4h-5.4zM471.96 236.32h5.4v5.4h-5.4zM473.81 212.1h5.4v5.4h-5.4zM475.67 187.92h5.4v5.4h-5.4zM477.52 164.19h5.4v5.4h-5.4zM479.37 141.37h5.4v5.4h-5.4zM481.22 120h5.4v5.4h-5.4zM483.07 100.61h5.4v5.4h-5.4zM484.92 83.81h5.4v5.4h-5.4zM486.78 70.17h5.4v5.4h-5.4zM488.63 60.28h5.4v5.4h-5.4zM490.48 54.65h5.4v5.4h-5.4zM492.33 53.75h5.4v5.4h-5.4zM494.18 57.89h5.4v5.4h-5.4zM496.04 67.29h5.4v5.4h-5.4zM497.89 81.98h5.4v5.4h-5.4zM499.74 101.79h5.4v5.4h-5.4zM501.59 126.38h5.4v5.4h-5.4zM503.44 155.21h5.4v5.4h-5.4zM505.3 187.53h5.4v5.4h-5.4zM507.15 222.47h5.4v5.4h-5.4zM509 259.04h5.4v5.4h-5.4zM510.85 296.2h5.4v5.4h-5.4zM512.7 332.9h5.4v5.4h-5.4zM514.56 368.18h5.4v5.4h-5.4zM516.41 401.18h5.4v5.4h-5.4zM518.26 431.22h5.4v5.4h-5.4zM520.11 457.83h5.4v5.4h-5.4zM521.96 480.74h5.4v5.4h-5.4zM523.81 499.91h5.4v5.4h-5.4zM525.67 515.48h5.4v5.4h-5.4zM527.52 527.75h5.4v5.4h-5.4zM529.37 537.1h5.4v5.4h-5.4zM531.22 539.2h5.4v5.4h-5.4zM533.07 539.2h5.4v5.4h-5.4zM534.93 539.2h5.4v5.4h-5.4zM536.78 539.2h5.4v5.4h-5.4zM538.63 539.2h5.4v5.4h-5.4zM540.48 539.2h5.4v5.4h-5.4zM542.33 539.2h5.4v5.4h-5.4zM544.19 539.2h5.4v5.4h-5.4zM546.04 539.2h5.4v5.4h-5.4zM547.89 539.2h5.4v5.4h-5.4zM549.74 539.2h5.4v5.4h-5.4zM551.59 539.2h5.4v5.4h-5.4zM553.45 539.2h5.4v5.4h-5.4zM555.3 539.2h5.4v5.4h-5.4zM557.15 539.2h5.4v5.4h-5.4zM559 539.2h5.4v5.4h-5.4zM560.85 539.2h5.4v5.4h-5.4zM562.7 539.2h5.4v5.4h-5.4zM564.56 539.2h5.4v5.4h-5.4zM566.41 539.2h5.4v5.4h-5.4zM568.26 539.2h5.4v5.4h-5.4zM570.11 539.2h5.4v5.4h-5.4zM571.96 539.2h5.4v5.4h-5.4zM573.82 539.2h5.4v5.4h-5.4zM575.67 539.2h5.4v5.4h-5.4zM577.52 539.2h5.4v5.4h-5.4zM579.37 539.2h5.4v5.4h-5.4zM581.22 539.2h5.4v5.4h-5.4zM583.08 539.2h5.4v5.4h-5.4zM584.93 539.2h5.4v5.4h-5.4zM586.78 539.2h5.4v5.4h-5.4zM588.63 539.2h5.4v5.4h-5.4zM590.48 539.2h5.4v5.4h-5.4zM592.34 539.2h5.4v5.4h-5.4zM594.19 539.2h5.4v5.4h-5.4zM596.04 539.2h5.4v5.4h-5.4zM597.89 539.2h5.4v5.4h-5.4zM599.74 539.2h5.4v5.4h-5.4zM601.6 539.2h5.4v5.4h-5.4zM603.45 539.2h5.4v5.4h-5.4zM605.3 539.2h5.4v5.4h-5.4zM607.15 539.2h5.4v5.4h-5.4zM609 539.2h5.4v5.4h-5.4zM610.85 539.2h5.4v5.4h-5.4zM612.71 539.2h5.4v5.4h-5.4zM614.56 539.2h5.4v5.4h-5.4zM616.41 539.2h5.4v5.4h-5.4zM618.26 539.2h5.4v5.4h-5.4zM620.11 539.2h5.4v5.4h-5.4zM621.97 539.2h5.4v5.4h-5.4zM623.82 539.2h5.4v5.4h-5.4zM625.67 539.2h5.4v5.4h-5.4zM627.52 539.2h5.4v5.4h-5.4zM629.37 539.2h5.4v5.4h-5.4zM631.23 539.2h5.4v5.4h-5.4zM633.08 539.2h5.4v5.4h-5.4zM634.93 539.2h5.4v5.4h-5.4zM636.78 539.2h5.4v5.4h-5.4zM638.63 539.2h5.4v5.4h-5.4zM640.49 539.2h5.4v5.4h-5.4zM642.34 539.2h5.4v5.4h-5.4zM644.19 539.2h5.4v5.4h-5.4zM646.04 539.2h5.4v5.4h-5.4zM647.89 539.2h5.4v5.4h-5.4zM649.74 539.2h5.4v5.4h-5.4zM651.6 539.2h5.4v5.4h-5.4zM653.45 539.2h5.4v5.4h-5.4zM655.3 539.2h5.4v5.4h-5.4zM657.15 539.2h5.4v5.4h-5.4zM659 539.2h5.4v5.4h-5.4zM660.86 539.2h5.4v5.4h-5.4zM662.71 539.2h5.4v5.4h-5.4zM664.56 539.2h5.4v5.4h-5.4zM666.41 539.2h5.4v5.4h-5.4zM668.26 539.2h5.4v5.4h-5.4zM670.12 539.2h5.4v5.4h-5.4zM671.97 539.2h5.4v5.4h-5.4zM673.82 539.2h5.4v5.4h-5.4zM675.67 539.2h5.4v5.4h-5.4zM677.52 539.2h5.4v5.4h-5.4zM679.38 539.2h5.4v5.4h-5.4zM681.23 539.2h5.4v5.4h-5.4zM683.08 539.2h5.4v5.4h-5.4zM684.93 539.2h5.4v5.4h-5.4zM686.78 539.2h5.4v5.4h-5.4zM688.63 539.2h5.4v5.4h-5.4zM690.49 539.2h5.4v5.4h-5.4zM692.34 539.2h5.4v5.4h-5.4zM694.19 539.2h5.4v5.4h-5.4zM696.04 539.2h5.4v5.4h-5.4zM697.89 539.2h5.4v5.4h-5.4zM699.75 539.2h5.4v5.4h-5.4zM701.6 539.2h5.4v5.4h-5.4zM703.45 539.2h5.4v5.4h-5.4zM705.3 539.2h5.4v5.4h-5.4zM707.15 539.2h5.4v5.4h-5.4zM709.01 539.2h5.4v5.4h-5.4zM710.86 539.2h5.4v5.4h-5.4zM712.71 539.2h5.4v5.4h-5.4zM714.56 539.2h5.4v5.4h-5.4zM716.41 539.2h5.4v5.4h-5.4zM718.27 539.2h5.4v5.4h-5.4zM720.12 539.2h5.4v5.4h-5.4zM721.97 539.2h5.4v5.4h-5.4zM723.82 539.2h5.4v5.4h-5.4zM725.67 539.2h5.4v5.4h-5.4zM727.53 539.2h5.4v5.4h-5.4zM729.38 539.2h5.4v5.4h-5.4zM731.23 539.2h5.4v5.4h-5.4zM733.08 539.2h5.4v5.4h-5.4zM734.93 539.2h5.4v5.4h-5.4zM736.78 539.2h5.4v5.4h-5.4zM738.64 539.2h5.4v5.4h-5.4zM740.49 539.2h5.4v5.4h-5.4zM742.34 539.2h5.4v5.4h-5.4zM744.19 539.2h5.4v5.4h-5.4zM746.04 539.2h5.4v5.4h-5.4zM747.9 539.2h5.4v5.4h-5.4zM749.75 539.2h5.4v5.4h-5.4zM751.6 539.2h5.4v5.4h-5.4z"/><path stroke="#1c1cf0" d="M76.5 538.3l3.3 3.6l-3.3 3.6l-3.3 -3.6zM79.5 538.3l3.3 3.6l-3.3 3.6l-3.3 -3.6zM82.5 538.3l3.3 3.6l-3.3 3.6l-3.3 -3.6zM85.5 538.3l3.3 3.6l-3.3 3.6l-3.3 -3.6zM88.5 538.3l3.3 3.6l-3.3 3.6l-3.3 -3.6zM91.5 538.3l3.3 3.6l-3.3 3.6l-3.3 -3.6zM94.49 538.3l3.3 3.6l-3.3 3.6l-3.3 -3.6zM97.49 538.3l3.3 3.6l-3.3 3.6l-3.3 -3.6zM100.49 538.3l3.3 3.6l-3.3 3.6l-3.3 -3.6zM103.49 538.3l3.3 3.6l-3.3 3.6l-3.3 -3.6zM106.49 538.3l3.3 3.6l-3.3 3.6l-3.3 -3.6zM109.49 538.3l3.3 3.6l-3.3 3.6l-3.3 -3.6zM112.49 538.3l3.3 3.6l-3.3 3.6l-3.3 -3.6zM115.49 538.3l3.3 3.6l-3.3 3.6l-3.3 -3.6zM118.49 538.3l3.3 3.6l-3.3 3.6l-3.3 -3.6zM121.49 538.3l3.3 3.6l-3.3 3.6l-3.3 -3.6zM124.49 538.3l3.3 3.6l-3.3 3.6l-3.3 -3.6zM127.48 538.3l3.3 3.6l-3.3 3.6l-3.3 -3.6zM130.48 538.3l3.3 3.6l-3.3 3.6l-3.3 -3.6zM133.48 538.3l3.3 3.6l-3.3 3.6l-3.3 -3.6zM136.48 538.3l3.3 3.6l-3.3 3.6l-3.3 -3.6zM139.48 538.3l3.3 3.6l-3.3 3.6l-3.3 -3.6zM142.48 538.3l3.3 3.6l-3.3 3.6l-3.3 -3.6zM145.48 538.3l3.3 3.6l-3.3 3.6l-3.3 -3.6zM148.48 538.3l3.3 3.6l-3.3 3.6l-3.3 -3.6zM151.48 538.3l3.3 3.6l-3.3 3.6l-3.3 -3.6zM154.48 538.3l3.3 3.6l-3.3 3.6l-3.3 -3.6zM157.48 538.3l3.3 3.6l-3.3 3.6l-3.3 -3.6zM160.48 538.3l3.3 3.6l-3.3 3.6l-3.3 -3.6zM163.47 538.3l3.3 3.6l-3.3 3.6l-3.3 -3.6zM166.47 538.3l3.3 3.6l-3.3 3.6l-3.3 -3.6zM169.47 538.3l3.3 3.6l-3.3 3.6l-3.3 -3.6zM172.47 538.3l3.3 3.6l-3.3 3.6l-3.3 -3.6zM175.47 538.3l3.3 3.6l-3.3 3.6l-3.3 -3.6zM178.47 538.3l3.3 3.6l-3.3 3.6l-3.3 -3.6zM181.47 538.3l3.3 3.6l-3.3 3.6l-3.3 -3.6zM184.47 538.3l3.3 3.6l-3.3 3.6l-3.3 -3.6zM187.47 538.3l3.3 3.6l-3.3 3.6l-3.3 -3.6zM190.47 538.3l3.3 3.6l-3.3 3.6l-3.3 -3.6zM193.47 538.3l3.3 3.6l-3.3 3.6l-3.3 -3.6zM196.46 538.3l3.3 3.6l-3.3 3.6l-3.3 -3.6zM199.46 538.3l3.3 3.6l-3.3 3.6l-3.3 -3.6zM202.46 538.3l3.3 3.6l-3.3 3.6l-3.3 -3.6zM205.46 538.3l3.3 3.6l-3.3 3.6l-3.3 -3.6zM208.46 538.3l3.3 3.6l-3.3 3.6l-3.3 -3.6zM211.46 538.3l3.3 3.6l-3.3 3.6l-3.3 -3.6zM214.46 538.3l3.3 3.6l-3.3 3.6l-3.3 -3.6zM217.46 538.3l3.3 3.6l-3.3 3.6l-3.3 -3.6zM220.46 538.3l3.3 3.6l-3.3 3.6l-3.3 -3.6zM223.46 538.3l3.3 3.6l-3.3 3.6l-3.3 -3.6zM226.46 538.3l3.3 3.6l-3.3 3.6l-3.3 -3.6zM229.45 538.3l3.3 3.6l-3.3 3.6l-3.3 -3.6zM232.45 538.3l3.3 3.6l-3.3 3.6l-3.3 -3.6zM235.45 538.3l3.3 3.6l-3.3 3.6l-3.3 -3.6zM238.45 538.3l3.3 3.6l-3.3 3.6l-3.3 -3.6zM241.45 538.3l3.3 3.6l-3.3 3.6l-3.3 -3.6zM244.45 538.3l3.3 3.6l-3.3 3.6l-3.3 -3.6zM247.45 538.3l3.3 3.6l-3.3 3.6l-3.3 -3.6zM250.45 538.3l3.3 3.6l-3.3 3.6l-3.3 -3.6zM253.45 538.3l3.3 3.6l-3.3 3.6l-3.3 -3.6zM256.45 538.3l3.3 3.6l-3.3 3.6l-3.3 -3.6zM259.45 538.3l3.3 3.6l-3.3 3.6l-3.3 -3.6zM262.45 538.11l3.3 3.6l-3.3 3.6l-3.3 -3.6zM265.44 538.12l3.3 3.6l-3.3 3.6l-3.3 -3.6zM268.44 538.16l3.3 3.6l-3.3 3.6l-3.3 -3.6zM271.44 538.21l3.3 3.6l-3.3 3.6l-3.3 -3.6zM274.44 538.26l3.3 3.6l-3.3 3.6l-3.3 -3.6zM277.44 538.3l3.3 3.6l-3.3 3.6l-3.3 -3.6zM280.44 538.3l3.3 3.6l-3.3 3.6l-3.3 -3.6zM283.44 538.3l3.3 3.6l-3.3 3.6l-3.3 -3.6zM286.44 538.3l3.3 3.6l-3.3 3.6l-3.3 -3.6zM289.44 538.3l3.3 3.6l-3.3 3.6l-3.3 -3.6zM292.44 538.3l3.3 3.6l-3.3 3.6l-3.3 -3.6zM295.44 538.3l3.3 3.6l-3.3 3.6l-3.3 -3.6zM298.43 538.3l3.3 3.6l-3.3 3.6l-3.3 -3.6zM301.43 538.3l3.3 3.6l-3.3 3.6l-3.3 -3.6zM304.43 538.24l3.3 3.6l-3.3 3.6l-3.3 -3.6zM307.43 538.07l3.3 3.6l-3.3 3.6l-3.3 -3.6zM310.43 537.84l3.3 3.6l-3.3 3.6l-3.3 -3.6zM313.43 537.56l3.3 3.6l-3.3 3.6l-3.3 -3.6zM316.43 537.22l3.3 3.6l-3.3 3.6l-3.3 -3.6zM319.43 536.8l3.3 3.6l-3.3 3.6l-3.3 -3.6zM322.43 536.32l3.3 3.6l-3.3 3.6l-3.3 -3.6zM325.43 535.76l3.3 3.6l-3.3 3.6l-3.3 -3.6zM328.43 535.11l3.3 3.6l-3.3 3.6l-3.3 -3.6zM331.42 534.38l3.3 3.6l-3.3 3.6l-3.3 -3.6zM334.42 533.55l3.3 3.6l-3.3 3.6l-3.3 -3.6zM337.42 532.64l3.3 3.6l-3.3 3.6l-3.3 -3.6zM340.42 531.62l3.3 3.6l-3.3 3.6l-3.3 -3.6zM343.42 530.51l3.3 3.6l-3.3 3.6l-3.3 -3.6zM346.42 529.31l3.3 3.6l-3.3 3.6l-3.3 -3.6zM349.42 528.01l3.3 3.6l-3.3 3.6l-3.3 -3.6zM352.42 526.61l3.3 3.6l-3.3 3.6l-3.3 -3.6zM355.42 525.11l3.3 3.6l-3.3 3.6l-3.3 -3.6zM358.42 523.51l3.3 3.6l-3.3 3.6l-3.3 -3.6zM361.42 521.81l3.3 3.6l-3.3 3.6l-3.3 -3.6zM364.42 520.01l3.3 3.6l-3.3 3.6l-3.3 -3.6zM367.41 518.11l3.3 3.6l-3.3 3.6l-3.3 -3.6zM370.41 516.11l3.3 3.6l-3.3 3.6l-3.3 -3.6zM373.41 514l3.3 3.6l-3.3 3.6l-3.3 -3.6zM376.41 511.79l3.3 3.6l-3.3 3.6l-3.3 -3.6zM379.41 509.47l3.3 3.6l-3.3 3.6l-3.3 -3.6zM382.41 507.05l3.3 3.6l-3.3 3.6l-3.3 -3.6zM385.41 504.52l3.3 3.6l-3.3 3.6l-3.3 -3.6zM388.41 501.86l3.3 3.6l-3.3 3.6l-3.3 -3.6zM391.41 499.04l3.3 3.6l-3.3 3.6l-3.3 -3.6zM394.41 496.01l3.3 3.6l-3.3 3.6l-3.3 -3.6zM397.41 492.73l3.3 3.6l-3.3 3.6l-3.3 -3.6zM400.4 489.16l3.3 3.6l-3.3 3.6l-3.3 -3.6zM403.4 485.26l3.3 3.6l-3.3 3.6l-3.3 -3.6zM406.4 480.99l3.3 3.6l-3.3 3.6l-3.3 -3.6zM409.4 476.31l3.3 3.6l-3.3 3.6l-3.3 -3.6zM412.4 471.17l3.3 3.6l-3.3 3.6l-3.3 -3.6zM415.4 465.53l3.3 3.6l-3.3 3.6l-3.3 -3.6zM418.4 459.36l3.3 3.6l-3.3 3.6l-3.3 -3.6zM421.4 452.6l3.3 3.6l-3.3 3.6l-3.3 -3.6zM424.4 444.44l3.3 3.6l-3.3 3.6l-3.3 -3.6zM427.4 434.82l3.3 3.6l-3.3 3.6l-3.3 -3.6zM430.4 423.71l3.3 3.6l-3.3 3.6l-3.3 -3.6zM433.39 410.91l3.3 3.6l-3.3 3.6l-3.3 -3.6zM436.39 398.28l3.3 3.6l-3.3 3.6l-3.3 -3.6zM439.39 385l3.3 3.6l-3.3 3.6l-3.3 -3.6zM442.39 370.6l3.3 3.6l-3.3 3.6l-3.3 -3.6zM445.39 355.02l3.3 3.6l-3.3 3.6l-3.3 -3.6zM448.39 338.23l3.3 3.6l-3.3 3.6l-3.3 -3.6zM451.39 320.23l3.3 3.6l-3.3 3.6l-3.3 -3.6zM454.39 301.02l3.3 3.6l-3.3 3.6l-3.3 -3.6zM457.39 280.66l3.3 3.6l-3.3 3.6l-3.3 -3.6zM460.39 259.23l3.3 3.6l-3.3 3.6l-3.3 -3.6zM463.39 236.9l3.3 3.6l-3.3 3.6l-3.3 -3.6zM466.38 213.86l3.3 3.6l-3.3 3.6l-3.3 -3.6zM469.38 190.4l3.3 3.6l-3.3 3.6l-3.3 -3.6zM472.38 166.9l3.3 3.6l-3.3 3.6l-3.3 -3.6zM475.38 143.82l3.3 3.6l-3.3 3.6l-3.3 -3.6zM478.38 121.73l3.3 3.6l-3.3 3.6l-3.3 -3.6zM481.38 101.3l3.3 3.6l-3.3 3.6l-3.3 -3.6zM484.38 83.3l3.3 3.6l-3.3 3.6l-3.3 -3.6zM487.38 68.6l3.3 3.6l-3.3 3.6l-3.3 -3.6zM490.38 58.13l3.3 3.6l-3.3 3.6l-3.3 -3.6zM493.38 52.94l3.3 3.6l-3.3 3.6l-3.3 -3.6zM496.38 54.37l3.3 3.6l-3.3 3.6l-3.3 -3.6zM499.38 62.8l3.3 3.6l-3.3 3.6l-3.3 -3.6zM502.37 78.12l3.3 3.6l-3.3 3.6l-3.3 -3.6zM505.37 100.16l3.3 3.6l-3.3 3.6l-3.3 -3.6zM508.37 128.47l3.3 3.6l-3.3 3.6l-3.3 -3.6zM511.37 162.29l3.3 3.6l-3.3 3.6l-3.3 -3.6zM514.37 200.55l3.3 3.6l-3.3 3.6l-3.3 -3.6zM517.37 241.89l3.3 3.6l-3.3 3.6l-3.3 -3.6zM520.37 284.75l3.3 3.6l-3.3 3.6l-3.3 -3.6zM523.37 327.49l3.3 3.6l-3.3 3.6l-3.3 -3.6zM526.37 368.53l3.3 3.6l-3.3 3.6l-3.3 -3.6zM529.37 406.44l3.3 3.6l-3.3 3.6l-3.3 -3.6zM532.37 440.13l3.3 3.6l-3.3 3.6l-3.3 -3.6zM535.36 468.86l3.3 3.6l-3.3 3.6l-3.3 -3.6zM538.36 492.34l3.3 3.6l-3.3 3.6l-3.3 -3.6zM541.36 510.68l3.3 3.6l-3.3 3.6l-3.3 -3.6zM544.36 524.34l3.3 3.6l-3.3 3.6l-3.3 -3.6zM547.36 534.02l3.3 3.6l-3.3 3.6l-3.3 -3.6zM550.36 538.3l3.3 3.6l-3.3 3.6l-3.3 -3.6zM553.36 538.3l3.3 3.6l-3.3 3.6l-3.3 -3.6zM556.36 538.3l3.3 3.6l-3.3 3.6l-3.3 -3.6zM559.36 538.3l3.3 3.6l-3.3 3.6l-3.3 -3.6zM562.36 538.3l3.3 3.6l-3.3 3.6l-3.3 -3.6zM565.36 538.3l3.3 3.6l-3.3 3.6l-3.3 -3.6zM568.35 538.3l3.3 3.6l-3.3 3.6l-3.3 -3.6zM571.35 538.3l3.3 3.6l-3.3 3.6l-3.3 -3.6zM574.35 538.3l3.3 3.6l-3.3 3.6l-3.3 -3.6zM577.35 538.3l3.3 3.6l-3.3 3.6l-3.3 -3.6zM580.35 538.3l3.3 3.6l-3.3 3.6l-3.3 -3.6zM583.35 538.3l3.3 3.6l-3.3 3.6l-3.3 -3.6zM586.35 538.3l3.3 3.6l-3.3 3.6l-3.3 -3.6zM589.35 538.3l3.3 3.6l-3.3 3.6l-3.3 -3.6zM592.35 538.3l3.3 3.6l-3.3 3.6l-3.3 -3.6zM595.35 538.3l3.3 3.6l-3.3 3.6l-3.3 -3.6zM598.35 538.3l3.3 3.6l-3.3 3.6l-3.3 -3.6zM601.35 538.3l3.3 3.6l-3.3 3.6l-3.3 -3.6zM604.34 538.3l3.3 3.6l-3.3 3.6l-3.3 -3.6zM607.34 538.3l3.3 3.6l-3.3 3.6l-3.3 -3.6zM610.34 538.3l3.3 3.6l-3.3 3.6l-3.3 -3.6zM613.34 538.3l3.3 3.6l-3.3 3.6l-3.3 -3.6zM616.34 538.3l3.3 3.6l-3.3 3.6l-3.3 -3.6zM619.34 538.3l3.3 3.6l-3.3 3.6l-3.3 -3.6zM622.34 538.3l3.3 3.6l-3.3 3.6l-3.3 -3.6zM625.34 538.3l3.3 3.6l-3.3 3.6l-3.3 -3.6zM628.34 538.3l3.3 3.6l-3.3 3.6l-3.3 -3.6zM631.34 538.3l3.3 3.6l-3.3 3.6l-3.3 -3.6zM634.34 538.3l3.3 3.6l-3.3 3.6l-3.3 -3.6zM637.33 538.3l3.3 3.6l-3.3 3.6l-3.3 -3.6zM640.33 538.3l3.3 3.6l-3.3 3.6l-3.3 -3.6zM643.33 538.3l3.3 3.6l-3.3 3.6l-3.3 -3.6zM646.33 538.3l3.3 3.6l-3.3 3.6l-3.3 -3.6zM649.33 538.3l3.3 3.6l-3.3 3.6l-3.3 -3.6zM652.33 538.3l3.3 3.6l-3.3 3.6l-3.3 -3.6zM655.33 538.3l3.3 3.6l-3.3 3.6l-3.3 -3.6zM658.33 538.3l3.3 3.6l-3.3 3.6l-3.3 -3.6zM661.33 538.3l3.3 3.6l-3.3 3.6l-3.3 -3.6zM664.33 538.3l3.3 3.6l-3.3 3.6l-3.3 -3.6zM667.33 538.3l3.3 3.6l-3.3 3.6l-3.3 -3.6zM670.32 538.3l3.3 3.6l-3.3 3.6l-3.3 -3.6zM673.32 538.3l3.3 3.6l-3.3 3.6l-3.3 -3.6zM676.32 538.3l3.3 3.6l-3.3 3.6l-3.3 -3.6zM679.32 538.3l3.3 3.6l-3.3 3.6l-3.3 -3.6zM682.32 538.3l3.3 3.6l-3.3 3.6l-3.3 -3.6zM685.32 538.3l3.3 3.6l-3.3 3.6l-3.3 -3.6zM688.32 538.3l3.3 3.6l-3.3 3.6l-3.3 -3.6zM691.32 538.3l3.3 3.6l-3.3 3.6l-3.3 -3.6zM694.32 538.3l3.3 3.6l-3.3 3.6l-3.3 -3.6zM697.32 538.3l3.3 3.6l-3.3 3.6l-3.3 -3.6zM700.32 538.3l3.3 3.6l-3.3 3.6l-3.3 -3.6zM703.32 538.3l3.3 3.6l-3.3 3.6l-3.3 -3.6zM706.31 538.3l3.3 3.6l-3.3 3.6l-3.3 -3.6zM709.31 538.3l3.3 3.6l-3.3 3.6l-3.3 -3.6zM712.31 538.3l3.3 3.6l-3.3 3.6l-3.3 -3.6zM715.31 538.3l3.3 3.6l-3.3 3.6l-3.3 -3.6zM718.31 538.3l3.3 3.6l-3.3 3.6l-3.3 -3.6zM721.31 538.3l3.3 3.6l-3.3 3.6l-3.3 -3.6zM724.31 538.3l3.3 3.6l-3.3 3.6l-3.3 -3.6zM727.31 538.3l3.3 3.6l-3.3 3.6l-3.3 -3.6zM730.31 538.3l3.3 3.6l-3.3 3.6l-3.3 -3.6zM733.31 538.3l3.3 3.6l-3.3 3.6l-3.3 -3.6zM736.31 538.3l3.3 3.6l-3.3 3.6l-3.3 -3.6zM739.3 538.3l3.3 3.6l-3.3 3.6l-3.3 -3.6zM742.3 538.3l3.3 3.6l-3.3 3.6l-3.3 -3.6zM745.3 538.3l3.3 3.6l-3.3 3.6l-3.3 -3.6zM748.3 538.3l3.3 3.6l-3.3 3.6l-3.3 -3.6zM751.3 538.3l3.3 3.6l-3.3 3.6l-3.3 -3.6zM754.3 538.3l3.3 3.6l-3.3 3.6l-3.3 -3.6z"/><path stroke="#000" stroke-width="1.5" stroke-linejoin="round" d="M76.5 541.9 L79.5 541.9 L82.5 541.9 L85.5 541.9 L88.5 541.9 L91.5 541.9 L94.49 541.9 L97.49 541.9 L100.49 541.9 L103.49 541.9 L106.49 541.9 L109.49 541.9 L112.49 541.9 L115.49 541.9 L118.49 541.9 L121.49 541.9 L124.49 541.9 L127.48 541.9 L130.48 541.9 L133.48 541.9 L136.48 541.9 L139.48 541.9 L142.48 541.9 L145.48 541.9 L148.48 541.9 L151.48 541.9 L154.48 541.9 L157.48 541.9 L160.48 541.9 L163.47 541.9 L166.47 541.9 L169.47 541.9 L172.47 541.9 L175.47 541.9 L178.47 541.9 L181.47 541.9 L184.47 541.9 L187.47 541.9 L190.47 541.9 L193.47 541.9 L196.46 541.9 L199.46 541.9 L202.46 541.9 L205.46 541.9 L208.46 541.9 L211.46 541.9 L214.46 541.9 L217.46 541.9 L220.46 541.9 L223.46 541.9 L226.46 541.9 L229.45 541.9 L232.45 541.9 L235.45 541.9 L238.45 541.9 L241.45 541.9 L244.45 541.9 L247.45 541.9 L250.45 541.9 L253.45 541.9 L256.45 541.9 L259.45 541.9 L262.45 541.9 L265.44 541.9 L268.44 541.9 L271.44 541.9 L274.44 541.9 L277.44 541.9 L280.44 541.9 L283.44 541.9 L286.44 541.9 L289.44 541.9 L292.44 541.9 L295.44 541.9 L298.43 541.9 L301.43 541.9 L304.43 541.9 L307.43 541.9 L310.43 541.9 L313.43 541.9 L316.43 541.9 L319.43 541.9 L322.43 541.9 L325.43 541.9 L328.43 541.9 L331.42 541.9 L334.42 541.9 L337.42 541.9 L340.42 541.9 L343.42 541.9 L346.42 541.9 L349.42 541.9 L352.42 541.9 L355.42 541.9 L358.42 541.9 L361.42 541.9 L364.42 541.9 L367.41 541.9 L370.41 541.9 L373.41 541.9 L376.41 541.9 L379.41 541.9 L382.41 541.9 L385.41 541.9 L388.41 541.9 L391.41 541.9 L394.41 541.9 L397.41 541.9 L400.4 541.9 L403.4 541.9 L406.4 541.9 L409.4 541.9 L412.4 541.9 L415.4 541.9 L418.4 541.9 L421.4 541.9 L424.4 541.9 L427.4 541.9 L430.4 541.9 L433.39 541.9 L436.39 541.9 L439.39 541.89 L442.39 541.88 L445.39 541.85 L448.39 541.79 L451.39 541.64 L454.39 541.33 L457.39 540.68 L460.39 539.34 L463.39 536.71 L466.38 531.69 L469.38 522.38 L472.38 505.62 L475.38 476.86 L478.38 431.11 L481.38 365.52 L484.38 282.44 L487.38 191.73 L490.38 111.03 L493.38 62.55 L496.38 64.96 L499.38 123.78 L502.37 223.37 L505.37 334.1 L508.37 427.65 L511.37 489.86 L514.37 522.62 L517.37 536.21 L520.37 540.59 L523.37 541.67 L526.37 541.87 L529.37 541.9 L532.37 541.9 L535.36 541.9 L538.36 541.9 L541.36 541.9 L544.36 541.9 L547.36 541.9 L550.36 541.9 L553.36 541.9 L556.36 541.9 L559.36 541.9 L562.36 541.9 L565.36 541.9 L568.35 541.9 L571.35 541.9 L574.35 541.9 L577.35 541.9 L580.35 541.9 L583.35 541.9 L586.35 541.9 L589.35 541.9 L592.35 541.9 L595.35 541.9 L598.35 541.9 L601.35 541.9 L604.34 541.9 L607.34 541.9 L610.34 541.9 L613.34 541.9 L616.34 541.9 L619.34 541.9 L622.34 541.9 L625.34 541.9 L628.34 541.9 L631.34 541.9 L634.34 541.9 L637.33 541.9 L640.33 541.9 L643.33 541.9 L646.33 541.9 L649.33 541.9 L652.33 541.9 L655.33 541.9 L658.33 541.9 L661.33 541.9 L664.33 541.9 L667.33 541.9 L670.32 541.9 L673.32 541.9 L676.32 541.9 L679.32 541.9 L682.32 541.9 L685.32 541.9 L688.32 541.9 L691.32 541.9 L694.32 541.9 L697.32 541.9 L700.32 541.9 L703.32 541.9 L706.31 541.9 L709.31 541.9 L712.31 541.9 L715.31 541.9 L718.31 541.9 L721.31 541.9 L724.31 541.9 L727.31 541.9 L730.31 541.9 L733.31 541.9 L736.31 541.9 L739.3 541.9 L742.3 541.9 L745.3 541.9 L748.3 541.9 L751.3 541.9 L754.3 541.9"/><path stroke="#ff0000" stroke-width="1.5" stroke-linejoin="round" d="M76.5 541.89 L79.5 541.89 L82.5 541.89 L85.5 541.89 L88.5 541.89 L91.5 541.89 L94.49 541.89 L97.49 541.89 L100.49 541.89 L103.49 541.89 L106.49 541.89 L109.49 541.89 L112.49 541.89 L115.49 541.89 L118.49 541.89 L121.49 541.89 L124.49 541.89 L127.48 541.89 L130.48 541.89 L133.48 541.89 L136.48 541.89 L139.48 541.89 L142.48 541.89 L145.48 541.89 L148.48 541.89 L151.48 541.89 L154.48 541.89 L157.48 541.89 L160.48 541.89 L163.47 541.89 L166.47 541.89 L169.47 541.89 L172.47 541.89 L175.47 541.89 L178.47 541.89 L181.47 541.89 L184.47 541.89 L187.47 541.89 L190.47 541.89 L193.47 541.89 L196.46 541.89 L199.46 541.89 L202.46 541.89 L205.46 541.89 L208.46 541.89 L211.46 541.89 L214.46 541.89 L217.46 541.89 L220.46 541.89 L223.46 541.88 L226.46 541.88 L229.45 541.88 L232.45 541.88 L235.45 541.88 L238.45 541.88 L241.45 541.88 L244.45 541.88 L247.45 541.88 L250.45 541.88 L253.45 541.88 L256.45 541.88 L259.45 541.87 L262.45 541.87 L265.44 541.87 L268.44 541.87 L271.44 541.87 L274.44 541.87 L277.44 541.87 L280.44 541.86 L283.44 541.86 L286.44 541.86 L289.44 541.86 L292.44 541.85 L295.44 541.85 L298.43 541.84 L301.43 541.84 L304.43 541.84 L307.43 541.83 L310.43 541.82 L313.43 541.82 L316.43 541.81 L319.43 541.8 L322.43 541.79 L325.43 541.78 L328.43 541.77 L331.42 541.76 L334.42 541.74 L337.42 541.72 L340.42 541.7 L343.42 541.68 L346.42 541.65 L349.42 541.62 L352.42 541.58 L355.42 541.54 L358.42 541.49 L361.42 541.44 L364.42 541.37 L367.41 541.3 L370.41 541.21 L373.41 541.1 L376.41 540.97 L379.41 540.82 L382.41 540.65 L385.41 540.44 L388.41 540.19 L391.41 539.88 L394.41 539.52 L397.41 539.09 L400.4 538.57 L403.4 537.93 L406.4 537.17 L409.4 536.24 L412.4 535.11 L415.4 533.74 L418.4 532.07 L421.4 530.04 L424.4 527.56 L427.4 524.53 L430.4 520.84 L433.39 516.33 L436.39 510.85 L439.39 504.18 L442.39 496.1 L445.39 486.33 L448.39 474.58 L451.39 460.52 L454.39 443.8 L457.39 424.1 L460.39 401.1 L463.39 374.59 L466.38 344.47 L469.38 310.86 L472.38 274.16 L475.38 235.15 L478.38 195.06 L481.38 155.61 L484.38 119.02 L487.38 87.92 L490.38 65.15 L493.38 53.47 L496.38 54.87 L499.38 68.89 L502.37 94.99 L505.37 132.26 L508.37 178.94 L511.37 232.2 L514.37 288.42 L517.37 343.69 L520.37 394.48 L523.37 438.1 L526.37 473.06 L529.37 499.14 L532.37 517.17 L535.36 528.66 L538.36 535.39 L541.36 538.98 L544.36 540.72 L547.36 541.47 L550.36 541.76 L553.36 541.86 L556.36 541.89 L559.36 541.9 L562.36 541.9 L565.36 541.9 L568.35 541.9 L571.35 541.9 L574.35 541.9 L577.35 541.9 L580.35 541.9 L583.35 541.9 L586.35 541.9 L589.35 541.9 L592.35 541.9 L595.35 541.9 L598.35 541.9 L601.35 541.9 L604.34 541.9 L607.34 541.9 L610.34 541.9 L613.34 541.9 L616.34 541.9 L619.34 541.9 L622.34 541.9 L625.34 541.9 L628.34 541.9 L631.34 541.9 L634.34 541.9 L637.33 541.9 L640.33 541.9 L643.33 541.9 L646.33 541.9 L649.33 541.9 L652.33 541.9 L655.33 541.9 L658.33 541.9 L661.33 541.9 L664.33 541.9 L667.33 541.9 L670.32 541.9 L673.32 541.9 L676.32 541.9 L679.32 541.9 L682.32 541.9 L685.32 541.9 L688.32 541.9 L691.32 541.9 L694.32 541.9 L697.32 541.9 L700.32 541.9 L703.32 541.9 L706.31 541.9 L709.31 541.9 L712.31 541.9 L715.31 541.9 L718.31 541.9 L721.31 541.9 L724.31 541.9 L727.31 541.9 L730.31 541.9 L733.31 541.9 L736.31 541.9 L739.3 541.9 L742.3 541.9 L745.3 541.9 L748.3 541.9 L751.3 541.9 L754.3 541.9"/><path stroke="#0000ff" stroke-width="1.5" stroke-linejoin="round" d="M76.5 539.22 L79.5 539.22 L82.5 539.21 L85.5 539.2 L88.5 539.19 L91.5 539.18 L94.49 539.17 L97.49 539.16 L100.49 539.15 L103.49 539.14 L106.49 539.13 L109.49 539.12 L112.49 539.1 L115.49 539.09 L118.49 539.08 L121.49 539.07 L124.49 539.05 L127.48 539.04 L130.48 539.02 L133.48 539.01 L136.48 538.99 L139.48 538.97 L142.48 538.95 L145.48 538.93 L148.48 538.91 L151.48 538.89 L154.48 538.87 L157.48 538.85 L160.48 538.83 L163.47 538.8 L166.47 538.78 L169.47 538.75 L172.47 538.73 L175.47 538.7 L178.47 538.67 L181.47 538.64 L184.47 538.61 L187.47 538.57 L190.47 538.54 L193.47 538.5 L196.46 538.46 L199.46 538.42 L202.46 538.38 L205.46 538.34 L208.46 538.29 L211.46 538.24 L214.46 538.19 L217.46 538.14 L220.46 538.08 L223.46 538.02 L226.46 537.96 L229.45 537.9 L232.45 537.83 L235.45 537.76 L238.45 537.69 L241.45 537.61 L244.45 537.53 L247.45 537.44 L250.45 537.35 L253.45 537.25 L256.45 537.15 L259.45 537.04 L262.45 536.93 L265.44 536.81 L268.44 536.68 L271.44 536.55 L274.44 536.41 L277.44 536.26 L280.44 536.1 L283.44 535.93 L286.44 535.75 L289.44 535.56 L292.44 535.35 L295.44 535.14 L298.43 534.91 L301.43 534.66 L304.43 534.4 L307.43 534.12 L310.43 533.82 L313.43 533.5 L316.43 533.15 L319.43 532.79 L322.43 532.39 L325.43 531.97 L328.43 531.51 L331.42 531.02 L334.42 530.49 L337.42 529.91 L340.42 529.29 L343.42 528.63 L346.42 527.9 L349.42 527.12 L352.42 526.26 L355.42 525.34 L358.42 524.33 L361.42 523.24 L364.42 522.05 L367.41 520.74 L370.41 519.32 L373.41 517.77 L376.41 516.06 L379.41 514.2 L382.41 512.15 L385.41 509.9 L388.41 507.43 L391.41 504.71 L394.41 501.72 L397.41 498.42 L400.4 494.79 L403.4 490.78 L406.4 486.35 L409.4 481.46 L412.4 476.06 L415.4 470.09 L418.4 463.5 L421.4 456.22 L424.4 448.18 L427.4 439.32 L430.4 429.56 L433.39 418.81 L436.39 407.01 L439.39 394.08 L442.39 379.95 L445.39 364.55 L448.39 347.83 L451.39 329.78 L454.39 310.38 L457.39 289.67 L460.39 267.74 L463.39 244.73 L466.38 220.84 L469.38 196.36 L472.38 171.69 L475.38 147.3 L478.38 123.79 L481.38 101.86 L484.38 82.3 L487.38 65.97 L490.38 53.79 L493.38 46.67 L496.38 45.42 L499.38 50.53 L502.37 62.36 L505.37 81.12 L508.37 106.67 L511.37 138.48 L514.37 175.65 L517.37 216.88 L520.37 260.58 L523.37 304.97 L526.37 348.23 L529.37 388.68 L532.37 424.92 L535.36 455.99 L538.36 481.42 L541.36 501.24 L544.36 515.9 L547.36 526.15 L550.36 532.91 L553.36 537.09 L556.36 539.5 L559.36 540.79 L562.36 541.43 L565.36 541.71 L568.35 541.83 L571.35 541.88 L574.35 541.89 L577.35 541.9 L580.35 541.9 L583.35 541.9 L586.35 541.9 L589.35 541.9 L592.35 541.9 L595.35 541.9 L598.35 541.9 L601.35 541.9 L604.34 541.9 L607.34 541.9 L610.34 541.9 L613.34 541.9 L616.34 541.9 L619.34 541.9 L622.34 541.9 L625.34 541.9 L628.34 541.9 L631.34 541.9 L634.34 541.9 L637.33 541.9 L640.33 541.9 L643.33 541.9 L646.33 541.9 L649.33 541.9 L652.33 541.9 L655.33 541.9 L658.33 541.9 L661.33 541.9 L664.33 541.9 L667.33 541.9 L670.32 541.9 L673.32 541.9 L676.32 541.9 L679.32 541.9 L682.32 541.9 L685.32 541.9 L688.32 541.9 L691.32 541.9 L694.32 541.9 L697.32 541.9 L700.32 541.9 L703.32 541.9 L706.31 541.9 L709.31 541.9 L712.31 541.9 L715.31 541.9 L718.31 541.9 L721.31 541.9 L724.31 541.9 L727.31 541.9 L730.31 541.9 L733.31 541.9 L736.31 541.9 L739.3 541.9 L742.3 541.9 L745.3 541.9 L748.3 541.9 L751.3 541.9 L754.3 541.9"/></g><g fill="none" stroke-width="1.1"><circle cx="116.7" cy="34.3" r="2.7" stroke="#000"/><path d="M114.4 64.6h5.2v5.2h-5.2z" stroke="#d84444"/><path d="M117.1 97L120.1 100.4L117.1 103.8L114.1 100.4z" stroke="#3030d8"/></g><g font-family="Liberation Sans" font-size="23" fill="#000" stroke="#fff" stroke-width="0.3"><text x="71.4" y="550.8" text-anchor="end">0</text><text x="71.4" y="453.66" text-anchor="end">0.2</text><text x="71.4" y="356.52" text-anchor="end">0.4</text><text x="71.4" y="259.38" text-anchor="end">0.6</text><text x="71.4" y="162.24" text-anchor="end">0.8</text><path transform="translate(58.61 64.9) scale(0.0230 -0.0230)" d="M262 0H350V709H280C256 604 229 583 106 567V506H262Z"/><path transform="translate(140.6 576.4) scale(0.0230 -0.0230)" d="M262 0H350V709H280C256 604 229 583 106 567V506H262Z"/><text x="153.39" y="576.4">0</text><text x="164.6" y="561.6" font-size="15">2</text><path transform="translate(340.35 576.4) scale(0.0230 -0.0230)" d="M262 0H350V709H280C256 604 229 583 106 567V506H262Z"/><text x="353.14" y="576.4">0</text><text x="364.35" y="561.6" font-size="15">3</text><path transform="translate(540.1 576.4) scale(0.0230 -0.0230)" d="M262 0H350V709H280C256 604 229 583 106 567V506H262Z"/><text x="552.89" y="576.4">0</text><text x="564.1" y="561.6" font-size="15">4</text><path transform="translate(739.85 576.4) scale(0.0230 -0.0230)" d="M262 0H350V709H280C256 604 229 583 106 567V506H262Z"/><text x="752.64" y="576.4">0</text><text x="763.85" y="561.6" font-size="15">5</text><text x="146" y="42.9" font-family="Liberation Serif">&#916;</text><text x="166.2" y="43.3" font-family="Liberation Serif" font-size="27">&#964;</text><text x="184.9" y="45.4">=</text><text x="205.6" y="42.9" letter-spacing="1">500</text><text x="253.1" y="42.9" letter-spacing="1">ps</text><text x="146" y="75.9" font-family="Liberation Serif">&#916;</text><text x="166.2" y="76.3" font-family="Liberation Serif" font-size="27">&#964;</text><text x="191.4" y="78.4">=</text><path transform="translate(212.7 75.9) scale(0.0230 -0.0230)" d="M262 0H350V709H280C256 604 229 583 106 567V506H262Z"/><text x="226.49" y="75.9" letter-spacing="1">000</text><text x="273.0" y="75.9" letter-spacing="1">ps</text><text x="146" y="108.9" font-family="Liberation Serif">&#916;</text><text x="166.2" y="109.3" font-family="Liberation Serif" font-size="27">&#964;</text><text x="191.4" y="111.4">=</text><path transform="translate(212.7 108.9) scale(0.0230 -0.0230)" d="M262 0H350V709H280C256 604 229 583 106 567V506H262Z"/><text x="226.49" y="108.9" letter-spacing="1">500</text><text x="273.0" y="108.9" letter-spacing="1">ps</text></g><g font-family="Liberation Serif" font-weight="bold" font-size="26" fill="#000"><text x="353.4" y="603.5">lifetime (ps)</text><text transform="translate(21.2 370) rotate(-90)">relative amplitude</text></g></svg></body></html>
